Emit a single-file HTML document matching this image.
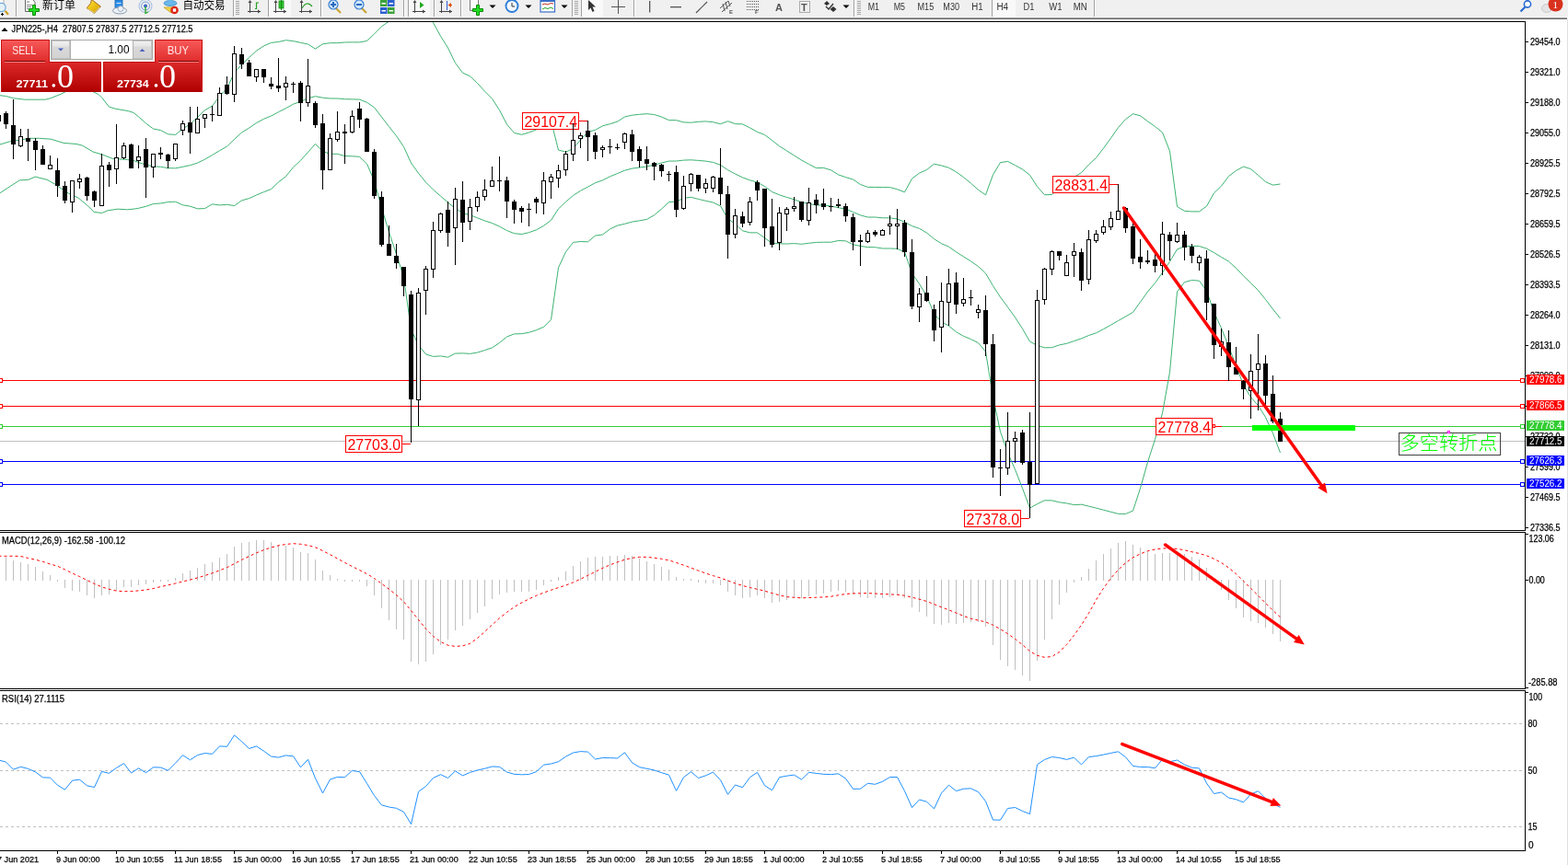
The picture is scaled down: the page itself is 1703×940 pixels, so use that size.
<!DOCTYPE html>
<html><head><meta charset="utf-8"><title>JPN225-,H4</title>
<style>
html,body{margin:0;padding:0;width:1703px;height:940px;overflow:hidden;background:#fff;}
svg{position:absolute;left:0;top:0;display:block}

</style></head><body>
<svg width="1703" height="940" viewBox="0 0 1703 940" font-family="'Liberation Sans', Arial, sans-serif">
<defs>
<clipPath id="cm"><rect x="0" y="24" width="1656" height="552"/></clipPath>
<clipPath id="cd"><rect x="0" y="579" width="1656" height="169"/></clipPath>
<clipPath id="cr"><rect x="0" y="751" width="1656" height="173"/></clipPath>
<clipPath id="ct"><rect x="0" y="0" width="1703" height="21"/></clipPath>
</defs>
<rect x="0" y="0" width="1703" height="940" fill="#fff"/>
<g clip-path="url(#ct)">
<rect x="0" y="0" width="1703" height="19" fill="#f0f0f0"/>
<rect x="0" y="18" width="1703" height="1" fill="#f6f6f6"/>
<rect x="0" y="19" width="1702" height="1" fill="#a0a0a0"/>
<rect x="0" y="20" width="1702" height="1" fill="#6a6a6a"/>
<rect x="-1" y="-1" width="5" height="8" fill="#fafafa" stroke="#999" stroke-width="0.8"/>
<circle cx="1.5" cy="8" r="4.6" fill="#e4f4fc" fill-opacity="0.85" stroke="#6aa6d8" stroke-width="1.2"/>
<line x1="5.5" y1="11.8" x2="9" y2="15.8" stroke="#c9a020" stroke-width="2.2"/>
<path d="M2.5 14 V17 M1 15.5 H4" stroke="#000" stroke-width="1"/>
<rect x="17" y="0" width="1" height="18" fill="#a0a0a0"/><rect x="18" y="0" width="1" height="18" fill="#ffffff"/>
<path d="M27.5 -1 V12.5 H38 V2.5 L35.5 -1 Z" fill="#fff" stroke="#666" stroke-width="1"/>
<rect x="29" y="1.5" width="3" height="1" fill="#777"/><rect x="29" y="5" width="6" height="1" fill="#888"/><rect x="29" y="7" width="5" height="1" fill="#888"/><rect x="29" y="9" width="3" height="1" fill="#888"/>
<path d="M31.5 9.5 H35.5 V5.5 H38.5 V9.5 H42.5 V12.5 H38.5 V16.5 H35.5 V12.5 H31.5 Z" fill="#22dd22" stroke="#0a8a0a" stroke-width="1"/>
<text x="46" y="9.5" font-size="12" fill="#000" font-family="'Liberation Sans', 'Noto Sans CJK SC', 'WenQuanYi Zen Hei', sans-serif" textLength="36" lengthAdjust="spacingAndGlyphs">新订单</text>
<defs><linearGradient id="gold" x1="0" y1="0" x2="1" y2="1"><stop offset="0" stop-color="#fff2a0"/><stop offset="0.4" stop-color="#f0c818"/><stop offset="1" stop-color="#d09a10"/></linearGradient></defs>
<path d="M99.5 -0.5 L109.3 7 L102.5 14.5 L94.3 8.8 L98.5 3.5 Z" fill="url(#gold)" stroke="#a86a10" stroke-width="1"/>
<path d="M95.5 9.8 L102.5 14 L108 8" fill="none" stroke="#e8d8a0" stroke-width="1"/>
<rect x="125" y="0" width="8" height="9" fill="#2d8ee6" stroke="#1a5fb0" stroke-width="0.8"/>
<rect x="126.5" y="3" width="5" height="1" fill="#cfe8ff"/>
<ellipse cx="130" cy="11.5" rx="7.5" ry="3.5" fill="#eef2f8" stroke="#8a9ab0" stroke-width="1"/>
<circle cx="131" cy="9.5" r="3" fill="#eef2f8" stroke="#8a9ab0" stroke-width="0.8"/>
<circle cx="158" cy="6.5" r="7" fill="none" stroke="#9ab8e0" stroke-width="1"/>
<circle cx="158" cy="6.5" r="4.5" fill="none" stroke="#6f9ad6" stroke-width="1"/>
<circle cx="158" cy="6.5" r="2" fill="#3a66c8"/>
<path d="M158 7 V14.5 L161 13" fill="none" stroke="#29a829" stroke-width="1.3"/>
<path d="M178 8 L186 14 L192 8 Z" fill="#f2d54a" stroke="#c0a020" stroke-width="0.8"/>
<ellipse cx="185" cy="3.5" rx="7" ry="3" fill="#6ab8ec" stroke="#3a88c0" stroke-width="0.8"/>
<rect x="183" y="0" width="4" height="3" fill="#6ab8ec"/>
<circle cx="189.5" cy="11" r="4.3" fill="#dd2211"/>
<rect x="187.8" y="9.3" width="3.4" height="3.4" fill="#fff"/>
<text x="198.5" y="9.5" font-size="12" fill="#000" font-family="'Liberation Sans', 'Noto Sans CJK SC', 'WenQuanYi Zen Hei', sans-serif" textLength="46" lengthAdjust="spacingAndGlyphs">自动交易</text>
<rect x="253" y="0" width="1" height="18" fill="#a0a0a0"/><rect x="254" y="0" width="1" height="18" fill="#ffffff"/>
<rect x="256" y="1" width="4" height="1" fill="#a8a8a8"/>
<rect x="256" y="3" width="4" height="1" fill="#a8a8a8"/>
<rect x="256" y="5" width="4" height="1" fill="#a8a8a8"/>
<rect x="256" y="7" width="4" height="1" fill="#a8a8a8"/>
<rect x="256" y="9" width="4" height="1" fill="#a8a8a8"/>
<rect x="256" y="11" width="4" height="1" fill="#a8a8a8"/>
<rect x="256" y="13" width="4" height="1" fill="#a8a8a8"/>
<rect x="256" y="15" width="4" height="1" fill="#a8a8a8"/>
<rect x="271" y="1" width="1" height="13" fill="#444"/><rect x="269" y="12" width="14" height="1" fill="#444"/>
<polygon points="271.5,0 269.5,3 273.5,3" fill="#444"/><polygon points="283,12.5 280,10.5 280,14.5" fill="#444"/>
<path d="M277 9.5 H278.5 V3 H281" fill="none" stroke="#22a022" stroke-width="1.2"/>
<rect x="291" y="0" width="1" height="18" fill="#a0a0a0"/><rect x="292" y="0" width="1" height="18" fill="#ffffff"/>
<rect x="293" y="0" width="23" height="18" fill="#f9f9f9"/>
<rect x="299" y="1" width="1" height="13" fill="#444"/><rect x="297" y="12" width="14" height="1" fill="#444"/>
<polygon points="299.5,0 297.5,3 301.5,3" fill="#444"/><polygon points="311,12.5 308,10.5 308,14.5" fill="#444"/>
<rect x="303" y="1" width="5" height="8" fill="#33cc33" stroke="#118811" stroke-width="0.8"/><rect x="305" y="0" width="1" height="11" fill="#118811"/>
<rect x="327" y="1" width="1" height="13" fill="#444"/><rect x="325" y="12" width="14" height="1" fill="#444"/>
<polygon points="327.5,0 325.5,3 329.5,3" fill="#444"/><polygon points="339,12.5 336,10.5 336,14.5" fill="#444"/>
<path d="M328 9 Q333 0 339 7" fill="none" stroke="#22a022" stroke-width="1.2"/>
<rect x="348" y="0" width="1" height="18" fill="#a0a0a0"/><rect x="349" y="0" width="1" height="18" fill="#ffffff"/>
<line x1="365" y1="9" x2="370" y2="14" stroke="#c9a437" stroke-width="2.2"/>
<circle cx="362" cy="5" r="5" fill="#cfe6fa" stroke="#3a7fd0" stroke-width="1.2"/>
<rect x="359" y="4" width="6" height="2" fill="#2a6ac0"/>
<rect x="361" y="2" width="2" height="6" fill="#2a6ac0"/>
<line x1="393" y1="9" x2="398" y2="14" stroke="#c9a437" stroke-width="2.2"/>
<circle cx="390" cy="5" r="5" fill="#cfe6fa" stroke="#3a7fd0" stroke-width="1.2"/>
<rect x="387" y="4" width="6" height="2" fill="#2a6ac0"/>
<rect x="413" y="0" width="7.5" height="7" fill="#3aa23a"/><rect x="414.5" y="3" width="4.5" height="1.5" fill="#fff"/>
<rect x="421" y="0" width="7.5" height="7" fill="#2a5fd0"/><rect x="422.5" y="3" width="4.5" height="1.5" fill="#fff"/>
<rect x="413" y="8" width="7.5" height="7" fill="#2a5fd0"/><rect x="414.5" y="11" width="4.5" height="1.5" fill="#fff"/>
<rect x="421" y="8" width="7.5" height="7" fill="#3aa23a"/><rect x="422.5" y="11" width="4.5" height="1.5" fill="#fff"/>
<rect x="438" y="0" width="1" height="18" fill="#a0a0a0"/><rect x="439" y="0" width="1" height="18" fill="#ffffff"/>
<rect x="443" y="0" width="1" height="18" fill="#a0a0a0"/><rect x="444" y="0" width="1" height="18" fill="#ffffff"/>
<rect x="445" y="0" width="22" height="18" fill="#f9f9f9"/>
<rect x="450" y="1" width="1" height="13" fill="#444"/><rect x="448" y="12" width="14" height="1" fill="#444"/>
<polygon points="450.5,0 448.5,3 452.5,3" fill="#444"/><polygon points="462,12.5 459,10.5 459,14.5" fill="#444"/>
<polygon points="456,2 456,9 460.5,5.5" fill="#22aa22"/>
<rect x="471" y="0" width="1" height="18" fill="#a0a0a0"/><rect x="472" y="0" width="1" height="18" fill="#ffffff"/>
<rect x="479" y="1" width="1" height="13" fill="#444"/><rect x="477" y="12" width="14" height="1" fill="#444"/>
<polygon points="479.5,0 477.5,3 481.5,3" fill="#444"/><polygon points="491,12.5 488,10.5 488,14.5" fill="#444"/>
<rect x="485" y="1" width="1" height="10" fill="#2a5fd0"/><polygon points="486.5,5.5 490,3 490,8" fill="#e05010"/><rect x="487" y="5" width="4" height="1" fill="#e05010"/>
<rect x="500" y="0" width="1" height="18" fill="#a0a0a0"/><rect x="501" y="0" width="1" height="18" fill="#ffffff"/>
<path d="M510.5 0 V11.5 H519.5 V0" fill="#fff" stroke="#777" stroke-width="1"/>
<path d="M513.5 9.5 H517.5 V5.5 H520.5 V9.5 H524.5 V12.5 H520.5 V16.5 H517.5 V12.5 H513.5 Z" fill="#22dd22" stroke="#0a8a0a" stroke-width="1"/>
<polygon points="531.5,5.5 538.5,5.5 535.0,9" fill="#000"/>
<circle cx="556" cy="6.5" r="7.5" fill="#2f7fd8"/><circle cx="556" cy="6.5" r="5.5" fill="#f4f8ff"/>
<path d="M556 3 V7 H559" fill="none" stroke="#333" stroke-width="1"/>
<polygon points="570.5,5.5 577.5,5.5 574.0,9" fill="#000"/>
<rect x="587" y="0" width="15.5" height="13" fill="#fff" stroke="#3a6fc8" stroke-width="1.2"/><rect x="587" y="0" width="15.5" height="2" fill="#3a6fc8"/>
<path d="M589 5 L592 4 L595 5 L598 3.5 L601 4" fill="none" stroke="#c03020" stroke-width="1"/>
<path d="M589 10 L592 8.5 L595 9.5 L598 8 L601 9.5" fill="none" stroke="#22a022" stroke-width="1"/>
<polygon points="609.5,5.5 616.5,5.5 613.0,9" fill="#000"/>
<rect x="621" y="0" width="1" height="18" fill="#a0a0a0"/><rect x="622" y="0" width="1" height="18" fill="#ffffff"/>
<rect x="624" y="1" width="4" height="1" fill="#a8a8a8"/>
<rect x="624" y="3" width="4" height="1" fill="#a8a8a8"/>
<rect x="624" y="5" width="4" height="1" fill="#a8a8a8"/>
<rect x="624" y="7" width="4" height="1" fill="#a8a8a8"/>
<rect x="624" y="9" width="4" height="1" fill="#a8a8a8"/>
<rect x="624" y="11" width="4" height="1" fill="#a8a8a8"/>
<rect x="624" y="13" width="4" height="1" fill="#a8a8a8"/>
<rect x="624" y="15" width="4" height="1" fill="#a8a8a8"/>
<rect x="631" y="0" width="1" height="18" fill="#a0a0a0"/><rect x="632" y="0" width="1" height="18" fill="#ffffff"/>
<rect x="633" y="0" width="22" height="18" fill="#f9f9f9"/>
<path d="M639 0 V11 L641.5 8.5 L643.5 13 L645.5 12 L643.5 7.5 L647 7.5 Z" fill="#333"/>
<rect x="664" y="7" width="15" height="1" fill="#555"/><rect x="671" y="0" width="1" height="15" fill="#555"/>
<rect x="688" y="0" width="1" height="18" fill="#a0a0a0"/><rect x="689" y="0" width="1" height="18" fill="#ffffff"/>
<rect x="705" y="1" width="1.3" height="12.5" fill="#555"/>
<rect x="728" y="7" width="12" height="1.3" fill="#555"/>
<line x1="756" y1="14" x2="768" y2="2" stroke="#555" stroke-width="1.2"/>
<path d="M782 9 L791 1 M784 13 L795 3 M785 4 L787 12 M788 2 L790 10 M791 1 L793 7" fill="none" stroke="#555" stroke-width="1"/>
<text x="792" y="15" font-size="6" font-weight="bold" fill="#555" font-family="'Liberation Sans', Arial, sans-serif">E</text>
<line x1="811" y1="1.5" x2="824" y2="1.5" stroke="#555" stroke-width="1" stroke-dasharray="1 1"/>
<line x1="811" y1="4.5" x2="824" y2="4.5" stroke="#555" stroke-width="1" stroke-dasharray="1 1"/>
<line x1="811" y1="7.5" x2="824" y2="7.5" stroke="#555" stroke-width="1" stroke-dasharray="1 1"/>
<line x1="811" y1="10.5" x2="824" y2="10.5" stroke="#555" stroke-width="1" stroke-dasharray="1 1"/>
<text x="820" y="15" font-size="6" font-weight="bold" fill="#555" font-family="'Liberation Sans', Arial, sans-serif">F</text>
<text x="842" y="11.7" font-size="11" font-weight="bold" fill="#555" font-family="'Liberation Sans', Arial, sans-serif">A</text>
<rect x="868.5" y="1.5" width="11" height="12" fill="none" stroke="#666" stroke-width="1" stroke-dasharray="1 1"/>
<text x="870" y="11.5" font-size="11" font-weight="bold" fill="#555" font-family="'Liberation Sans', Arial, sans-serif">T</text>
<polygon points="898,1 901,4 898,6 895,4" fill="#333"/><polygon points="905,7 908.5,10 905,13 901.5,10" fill="#333"/><path d="M897 7 L900 10 L905 4" fill="none" stroke="#333" stroke-width="1.3"/>
<polygon points="915.5,5.5 922.5,5.5 919.0,9" fill="#000"/>
<rect x="927" y="0" width="1" height="18" fill="#a0a0a0"/><rect x="928" y="0" width="1" height="18" fill="#ffffff"/>
<rect x="931" y="1" width="4" height="1" fill="#a8a8a8"/>
<rect x="931" y="3" width="4" height="1" fill="#a8a8a8"/>
<rect x="931" y="5" width="4" height="1" fill="#a8a8a8"/>
<rect x="931" y="7" width="4" height="1" fill="#a8a8a8"/>
<rect x="931" y="9" width="4" height="1" fill="#a8a8a8"/>
<rect x="931" y="11" width="4" height="1" fill="#a8a8a8"/>
<rect x="931" y="13" width="4" height="1" fill="#a8a8a8"/>
<rect x="931" y="15" width="4" height="1" fill="#a8a8a8"/>
<rect x="1077" y="0" width="26" height="18" fill="#f9f9f9"/>
<rect x="1077" y="0" width="1" height="18" fill="#a0a0a0"/>
<text x="942.7" y="11" font-size="10" fill="#333" font-family="'Liberation Sans', Arial, sans-serif" textLength="12.3" lengthAdjust="spacingAndGlyphs">M1</text>
<text x="970.7" y="11" font-size="10" fill="#333" font-family="'Liberation Sans', Arial, sans-serif" textLength="12.3" lengthAdjust="spacingAndGlyphs">M5</text>
<text x="996.5" y="11" font-size="10" fill="#333" font-family="'Liberation Sans', Arial, sans-serif" textLength="17.7" lengthAdjust="spacingAndGlyphs">M15</text>
<text x="1024.3" y="11" font-size="10" fill="#333" font-family="'Liberation Sans', Arial, sans-serif" textLength="17.7" lengthAdjust="spacingAndGlyphs">M30</text>
<text x="1055.2" y="11" font-size="10" fill="#333" font-family="'Liberation Sans', Arial, sans-serif" textLength="12.4" lengthAdjust="spacingAndGlyphs">H1</text>
<text x="1082.4" y="11" font-size="10" fill="#333" font-family="'Liberation Sans', Arial, sans-serif" textLength="12.7" lengthAdjust="spacingAndGlyphs">H4</text>
<text x="1111.5" y="11" font-size="10" fill="#333" font-family="'Liberation Sans', Arial, sans-serif" textLength="11.9" lengthAdjust="spacingAndGlyphs">D1</text>
<text x="1139.2" y="11" font-size="10" fill="#333" font-family="'Liberation Sans', Arial, sans-serif" textLength="14.3" lengthAdjust="spacingAndGlyphs">W1</text>
<text x="1165.7" y="11" font-size="10" fill="#333" font-family="'Liberation Sans', Arial, sans-serif" textLength="15" lengthAdjust="spacingAndGlyphs">MN</text>
<rect x="1188" y="0" width="1" height="18" fill="#a0a0a0"/><rect x="1189" y="0" width="1" height="18" fill="#ffffff"/>
<circle cx="1659" cy="4.5" r="3.6" fill="#fff" stroke="#2a6ad0" stroke-width="1.6"/><line x1="1656.5" y1="7.5" x2="1651.5" y2="12.5" stroke="#2a6ad0" stroke-width="2.2"/>
<ellipse cx="1680" cy="9" rx="5.5" ry="4.5" fill="#e4e4e4" stroke="#c0c0c0" stroke-width="0.8"/>
<circle cx="1689.5" cy="4.5" r="8" fill="#d8321e"/>
<text x="1686.5" y="8.5" font-size="11" fill="#fff" font-family="'Liberation Serif', serif">1</text>
</g>
<g clip-path="url(#cm)">
<rect x="0" y="413" width="1656" height="1" fill="#ff0000"/>
<rect x="-1.5" y="411.5" width="4" height="4" fill="#fff" stroke="#ff0000" stroke-width="1"/>
<rect x="1651.5" y="411.5" width="4" height="4" fill="#fff" stroke="#ff0000" stroke-width="1"/>
<rect x="0" y="441" width="1656" height="1" fill="#ff0000"/>
<rect x="-1.5" y="439.5" width="4" height="4" fill="#fff" stroke="#ff0000" stroke-width="1"/>
<rect x="1651.5" y="439.5" width="4" height="4" fill="#fff" stroke="#ff0000" stroke-width="1"/>
<rect x="0" y="463" width="1656" height="1" fill="#32cd32"/>
<rect x="-1.5" y="461.5" width="4" height="4" fill="#fff" stroke="#32cd32" stroke-width="1"/>
<rect x="1651.5" y="461.5" width="4" height="4" fill="#fff" stroke="#32cd32" stroke-width="1"/>
<rect x="0" y="479" width="1656" height="1" fill="#c0c0c0"/>
<rect x="0" y="501" width="1656" height="1" fill="#0000ff"/>
<rect x="-1.5" y="499.5" width="4" height="4" fill="#fff" stroke="#0000ff" stroke-width="1"/>
<rect x="1651.5" y="499.5" width="4" height="4" fill="#fff" stroke="#0000ff" stroke-width="1"/>
<rect x="0" y="526" width="1656" height="1" fill="#0000ff"/>
<rect x="-1.5" y="524.5" width="4" height="4" fill="#fff" stroke="#0000ff" stroke-width="1"/>
<rect x="1651.5" y="524.5" width="4" height="4" fill="#fff" stroke="#0000ff" stroke-width="1"/>
<polyline points="0.0,103.7 6.4,104.5 14.5,106.7 26.8,108.2 49.2,108.2 55.1,106.7 66.3,102.2 86.0,92.0 107.2,102.7 110.9,106.4 118.4,116.1 125.8,118.3 139.2,120.6 145.0,122.4 150.5,126.9 158.5,134.0 166.5,140.0 174.5,141.6 182.5,145.8 190.5,146.4 198.5,139.9 206.5,135.0 214.5,127.4 222.5,119.7 230.5,115.2 238.5,104.6 246.5,95.9 254.5,79.2 262.5,70.1 270.5,62.6 278.5,55.2 286.5,49.9 294.5,46.4 302.5,45.5 310.5,43.7 318.5,44.6 326.5,46.4 334.5,48.0 342.5,53.1 350.5,47.8 358.5,46.7 366.5,46.7 374.5,46.0 382.5,45.9 390.5,45.9 398.5,44.5 406.5,36.9 414.5,28.8 422.5,23.1 430.5,19.4 438.5,17.6 446.5,-4.1 454.5,1.5 462.5,11.2 470.5,24.7 478.5,39.2 486.5,52.0 494.5,68.5 502.5,79.2 510.5,82.8 518.5,90.5 526.5,99.2 534.5,107.2 542.5,119.7 550.5,135.1 558.5,144.5 566.5,146.3 574.5,144.0 582.5,140.9 590.5,135.3 598.5,131.3 606.5,163.0 614.5,165.2 622.5,161.5 630.5,152.0 638.5,143.4 646.5,141.3 654.5,136.8 662.5,134.7 670.5,132.2 678.5,127.0 686.5,125.2 694.5,124.3 702.5,123.7 710.5,124.5 718.5,127.0 726.5,130.6 734.5,130.7 742.5,132.9 750.5,133.2 758.5,132.3 766.5,131.9 774.5,132.7 782.5,134.7 790.5,131.7 798.5,134.6 806.5,134.9 814.5,138.9 822.5,143.4 830.5,146.5 838.5,152.5 846.5,158.8 854.5,163.9 862.5,169.0 870.5,174.0 878.5,178.4 886.5,182.6 894.5,182.4 902.5,184.8 910.5,189.9 918.5,192.6 926.5,195.0 934.5,200.5 942.5,203.4 950.5,203.4 958.5,203.6 966.5,203.6 974.5,205.7 982.5,208.8 990.5,194.1 998.5,188.1 1006.5,184.5 1014.5,178.2 1022.5,179.9 1030.5,182.3 1038.5,186.8 1046.5,192.6 1054.5,199.2 1062.5,206.3 1070.5,211.8 1078.5,189.8 1086.5,176.6 1094.5,175.4 1102.5,179.6 1110.5,184.0 1118.5,190.2 1126.5,202.8 1134.5,211.7 1142.5,211.5 1150.5,204.1 1158.5,199.6 1166.5,192.6 1174.5,187.6 1182.5,178.9 1190.5,171.5 1198.5,161.1 1206.5,150.2 1214.5,138.6 1222.5,129.6 1230.5,123.7 1238.5,125.8 1246.5,131.8 1254.5,137.5 1262.5,143.9 1270.5,164.2 1278.5,224.5 1286.5,229.3 1294.5,229.9 1302.5,229.9 1310.5,224.1 1318.5,209.8 1326.5,202.2 1334.5,191.5 1342.5,185.4 1350.5,181.1 1358.5,183.6 1366.5,190.4 1374.5,197.6 1382.5,201.1 1390.5,200.0" fill="none" stroke="#3cb371" stroke-width="1"/>
<polyline points="0.0,157.0 10.6,153.8 21.3,152.2 31.9,150.3 42.6,150.3 55.3,151.2 69.1,155.4 83.0,156.5 89.4,158.1 101.0,165.0 111.7,168.2 122.3,172.4 138.3,173.5 146.0,174.8 150.5,176.6 158.5,179.1 166.5,180.8 174.5,181.3 182.5,182.7 190.5,182.8 198.5,181.3 206.5,179.6 214.5,177.1 222.5,173.2 230.5,168.5 238.5,163.7 246.5,159.1 254.5,151.4 262.5,144.0 270.5,139.1 278.5,133.6 286.5,129.3 294.5,126.0 302.5,121.7 310.5,117.7 318.5,113.2 326.5,110.4 334.5,106.7 342.5,104.7 350.5,106.2 358.5,107.0 366.5,107.0 374.5,107.7 382.5,107.9 390.5,108.1 398.5,111.3 406.5,116.8 414.5,127.2 422.5,137.6 430.5,147.7 438.5,159.5 446.5,177.1 454.5,188.2 462.5,198.1 470.5,206.1 478.5,213.1 486.5,220.1 494.5,226.3 502.5,231.6 510.5,233.6 518.5,236.8 526.5,239.9 534.5,242.5 542.5,246.1 550.5,250.5 558.5,253.7 566.5,254.5 574.5,252.7 582.5,249.8 590.5,245.3 598.5,239.4 606.5,226.9 614.5,219.4 622.5,212.4 630.5,207.3 638.5,203.1 646.5,198.7 654.5,195.9 662.5,191.8 670.5,188.6 678.5,185.2 686.5,183.1 694.5,182.0 702.5,181.0 710.5,179.1 718.5,177.0 726.5,175.1 734.5,175.0 742.5,174.1 750.5,173.8 758.5,174.4 766.5,175.1 774.5,176.4 782.5,179.3 790.5,184.7 798.5,189.0 806.5,192.9 814.5,195.8 822.5,198.1 830.5,202.5 838.5,208.5 846.5,211.8 854.5,214.4 862.5,216.8 870.5,219.7 878.5,221.4 886.5,223.0 894.5,222.8 902.5,224.0 910.5,225.7 918.5,227.2 926.5,230.4 934.5,233.9 942.5,236.0 950.5,236.0 958.5,236.8 966.5,236.8 974.5,238.0 982.5,241.3 990.5,245.6 998.5,248.3 1006.5,253.0 1014.5,259.6 1022.5,264.7 1030.5,268.2 1038.5,273.8 1046.5,278.9 1054.5,283.9 1062.5,289.5 1070.5,297.0 1078.5,310.6 1086.5,322.9 1094.5,333.7 1102.5,344.9 1110.5,357.3 1118.5,371.1 1126.5,375.3 1134.5,377.8 1142.5,377.7 1150.5,374.9 1158.5,373.3 1166.5,370.6 1174.5,367.9 1182.5,364.5 1190.5,361.8 1198.5,357.6 1206.5,353.2 1214.5,348.5 1222.5,344.0 1230.5,339.4 1238.5,328.2 1246.5,317.0 1254.5,307.5 1262.5,296.4 1270.5,284.3 1278.5,270.8 1286.5,267.9 1294.5,267.2 1302.5,267.5 1310.5,270.1 1318.5,274.5 1326.5,279.4 1334.5,284.1 1342.5,291.4 1350.5,299.8 1358.5,307.6 1366.5,315.5 1374.5,325.5 1382.5,336.0 1390.5,346.0" fill="none" stroke="#3cb371" stroke-width="1"/>
<polyline points="0.0,209.7 10.6,202.8 21.3,195.9 30.9,195.3 38.3,192.1 51.1,195.3 59.6,200.1 74.5,210.2 85.1,215.0 95.7,224.0 102.1,230.4 110.6,231.5 117.0,228.8 127.7,227.2 138.3,227.8 146.0,227.0 150.5,226.3 158.5,224.3 166.5,221.5 174.5,221.0 182.5,219.5 190.5,219.2 198.5,222.8 206.5,224.2 214.5,226.8 222.5,226.6 230.5,221.8 238.5,222.9 246.5,222.3 254.5,223.6 262.5,217.9 270.5,215.6 278.5,212.0 286.5,208.6 294.5,205.6 302.5,197.9 310.5,191.7 318.5,181.8 326.5,174.4 334.5,165.4 342.5,156.4 350.5,164.5 358.5,167.3 366.5,167.3 374.5,169.5 382.5,169.8 390.5,170.3 398.5,178.0 406.5,196.7 414.5,225.7 422.5,252.2 430.5,276.1 438.5,301.5 446.5,358.2 454.5,375.0 462.5,385.0 470.5,387.4 478.5,386.9 486.5,388.2 494.5,384.1 502.5,383.9 510.5,384.4 518.5,383.1 526.5,380.6 534.5,377.9 542.5,372.5 550.5,366.0 558.5,362.9 566.5,362.7 574.5,361.3 582.5,358.7 590.5,355.3 598.5,347.4 606.5,290.9 614.5,273.7 622.5,263.4 630.5,262.5 638.5,262.8 646.5,256.1 654.5,255.0 662.5,248.9 670.5,245.1 678.5,243.3 686.5,241.1 694.5,239.8 702.5,238.4 710.5,233.8 718.5,227.1 726.5,219.5 734.5,219.3 742.5,215.3 750.5,214.3 758.5,216.4 766.5,218.3 774.5,220.0 782.5,223.9 790.5,237.6 798.5,243.4 806.5,250.8 814.5,252.8 822.5,252.9 830.5,258.5 838.5,264.4 846.5,264.8 854.5,265.0 862.5,264.6 870.5,265.3 878.5,264.3 886.5,263.4 894.5,263.2 902.5,263.2 910.5,261.5 918.5,261.8 926.5,265.8 934.5,267.4 942.5,268.6 950.5,268.7 958.5,270.0 966.5,270.0 974.5,270.3 982.5,273.8 990.5,297.1 998.5,308.4 1006.5,321.6 1014.5,341.1 1022.5,349.6 1030.5,354.2 1038.5,360.7 1046.5,365.3 1054.5,368.6 1062.5,372.6 1070.5,382.1 1078.5,431.5 1086.5,469.2 1094.5,492.0 1102.5,510.2 1110.5,530.6 1118.5,552.0 1126.5,547.7 1134.5,543.8 1142.5,543.9 1150.5,545.8 1158.5,546.9 1166.5,548.6 1174.5,548.2 1182.5,550.1 1190.5,552.1 1198.5,554.2 1206.5,556.3 1214.5,558.4 1222.5,558.5 1230.5,555.1 1238.5,530.6 1246.5,502.2 1254.5,477.4 1262.5,448.9 1270.5,404.4 1278.5,317.0 1286.5,306.6 1294.5,304.5 1302.5,305.1 1310.5,316.0 1318.5,339.2 1326.5,356.6 1334.5,376.7 1342.5,397.4 1350.5,418.5 1358.5,431.7 1366.5,440.6 1374.5,453.4 1382.5,470.9 1390.5,492.0" fill="none" stroke="#3cb371" stroke-width="1"/>
<rect x="567.5" y="122.5" width="61" height="18" fill="#fff" stroke="#ff0000" stroke-width="1"/>
<text x="569.5" y="138" font-size="16" fill="#ff0000" textLength="57.5" lengthAdjust="spacingAndGlyphs">29107.4</text>
<rect x="629" y="131" width="9" height="1" fill="#ff0000"/>
<rect x="1143.5" y="191.5" width="61" height="18" fill="#fff" stroke="#ff0000" stroke-width="1"/>
<text x="1145.5" y="207" font-size="16" fill="#ff0000" textLength="57.5" lengthAdjust="spacingAndGlyphs">28831.4</text>
<rect x="1205" y="200" width="9" height="1" fill="#ff0000"/>
<rect x="375.5" y="473.5" width="61" height="18" fill="#fff" stroke="#ff0000" stroke-width="1"/>
<text x="377.5" y="489" font-size="16" fill="#ff0000" textLength="57.5" lengthAdjust="spacingAndGlyphs">27703.0</text>
<rect x="437" y="482" width="9" height="1" fill="#ff0000"/>
<rect x="1047.5" y="554.5" width="61" height="18" fill="#fff" stroke="#ff0000" stroke-width="1"/>
<text x="1049.5" y="570" font-size="16" fill="#ff0000" textLength="57.5" lengthAdjust="spacingAndGlyphs">27378.0</text>
<rect x="1109" y="563" width="9" height="1" fill="#ff0000"/>
<rect x="1255.5" y="454.5" width="61" height="18" fill="#fff" stroke="#ff0000" stroke-width="1"/>
<text x="1257.5" y="470" font-size="16" fill="#ff0000" textLength="57.5" lengthAdjust="spacingAndGlyphs">27778.4</text>
<rect x="1317.5" y="461.5" width="2" height="3" fill="#fff" stroke="#ff0000" stroke-width="1"/>
<rect x="1320" y="463" width="7" height="1" fill="#ff0000"/>
<rect x="-2" y="124" width="1" height="8" fill="#000"/>
<rect x="-4" y="125" width="5" height="7" fill="#000"/>
<rect x="6" y="121" width="1" height="19" fill="#000"/>
<rect x="4" y="123" width="5" height="12" fill="#000"/>
<rect x="14" y="108" width="1" height="65" fill="#000"/>
<rect x="12" y="136" width="5" height="21" fill="#000"/>
<rect x="22" y="140" width="1" height="20" fill="#000"/>
<rect x="20.5" y="148.5" width="4" height="10" fill="#fff" stroke="#000" stroke-width="1"/>
<rect x="30" y="140" width="1" height="35" fill="#000"/>
<rect x="28" y="150" width="5" height="4" fill="#000"/>
<rect x="38" y="150" width="1" height="35" fill="#000"/>
<rect x="36" y="153" width="5" height="10" fill="#000"/>
<rect x="46" y="158" width="1" height="21" fill="#000"/>
<rect x="44" y="162" width="5" height="17" fill="#000"/>
<rect x="54" y="169" width="1" height="15" fill="#000"/>
<rect x="52.5" y="179.5" width="4" height="4" fill="#fff" stroke="#000" stroke-width="1"/>
<rect x="62" y="172" width="1" height="42" fill="#000"/>
<rect x="60" y="185" width="5" height="17" fill="#000"/>
<rect x="70" y="197" width="1" height="24" fill="#000"/>
<rect x="68" y="202" width="5" height="16" fill="#000"/>
<rect x="78" y="196" width="1" height="35" fill="#000"/>
<rect x="76.5" y="196.5" width="4" height="23" fill="#fff" stroke="#000" stroke-width="1"/>
<rect x="86" y="189" width="1" height="16" fill="#000"/>
<rect x="84.5" y="194.5" width="4" height="3" fill="#fff" stroke="#000" stroke-width="1"/>
<rect x="94" y="192" width="1" height="26" fill="#000"/>
<rect x="92" y="193" width="5" height="20" fill="#000"/>
<rect x="102" y="207" width="1" height="18" fill="#000"/>
<rect x="100" y="208" width="5" height="10" fill="#000"/>
<rect x="110" y="167" width="1" height="57" fill="#000"/>
<rect x="108.5" y="180.5" width="4" height="43" fill="#fff" stroke="#000" stroke-width="1"/>
<rect x="118" y="176" width="1" height="27" fill="#000"/>
<rect x="116" y="179" width="5" height="6" fill="#000"/>
<rect x="126" y="135" width="1" height="65" fill="#000"/>
<rect x="124.5" y="171.5" width="4" height="12" fill="#fff" stroke="#000" stroke-width="1"/>
<rect x="134" y="155" width="1" height="18" fill="#000"/>
<rect x="132.5" y="158.5" width="4" height="13" fill="#fff" stroke="#000" stroke-width="1"/>
<rect x="142" y="156" width="1" height="27" fill="#000"/>
<rect x="140" y="157" width="5" height="26" fill="#000"/>
<rect x="150" y="158" width="1" height="25" fill="#000"/>
<rect x="148.5" y="170.5" width="4" height="4" fill="#fff" stroke="#000" stroke-width="1"/>
<rect x="158" y="150" width="1" height="65" fill="#000"/>
<rect x="156" y="162" width="5" height="20" fill="#000"/>
<rect x="166" y="167" width="1" height="26" fill="#000"/>
<rect x="164.5" y="167.5" width="4" height="14" fill="#fff" stroke="#000" stroke-width="1"/>
<rect x="174" y="160" width="1" height="13" fill="#000"/>
<rect x="172" y="166" width="5" height="2" fill="#000"/>
<rect x="182" y="167" width="1" height="16" fill="#000"/>
<rect x="180" y="168" width="5" height="7" fill="#000"/>
<rect x="190" y="156" width="1" height="19" fill="#000"/>
<rect x="188.5" y="156.5" width="4" height="16" fill="#fff" stroke="#000" stroke-width="1"/>
<rect x="198" y="131" width="1" height="16" fill="#000"/>
<rect x="196.5" y="134.5" width="4" height="7" fill="#fff" stroke="#000" stroke-width="1"/>
<rect x="206" y="116" width="1" height="51" fill="#000"/>
<rect x="204" y="133" width="5" height="11" fill="#000"/>
<rect x="214" y="116" width="1" height="29" fill="#000"/>
<rect x="212.5" y="129.5" width="4" height="15" fill="#fff" stroke="#000" stroke-width="1"/>
<rect x="222" y="124" width="1" height="15" fill="#000"/>
<rect x="220.5" y="124.5" width="4" height="4" fill="#fff" stroke="#000" stroke-width="1"/>
<rect x="230" y="115" width="1" height="17" fill="#000"/>
<rect x="228" y="124" width="5" height="1" fill="#000"/>
<rect x="238" y="95" width="1" height="31" fill="#000"/>
<rect x="236.5" y="101.5" width="4" height="24" fill="#fff" stroke="#000" stroke-width="1"/>
<rect x="246" y="83" width="1" height="20" fill="#000"/>
<rect x="244" y="92" width="5" height="10" fill="#000"/>
<rect x="254" y="50" width="1" height="61" fill="#000"/>
<rect x="252.5" y="58.5" width="4" height="44" fill="#fff" stroke="#000" stroke-width="1"/>
<rect x="262" y="52" width="1" height="23" fill="#000"/>
<rect x="260" y="59" width="5" height="11" fill="#000"/>
<rect x="270" y="65" width="1" height="18" fill="#000"/>
<rect x="268" y="68" width="5" height="15" fill="#000"/>
<rect x="278" y="75" width="1" height="14" fill="#000"/>
<rect x="276.5" y="75.5" width="4" height="8" fill="#fff" stroke="#000" stroke-width="1"/>
<rect x="286" y="75" width="1" height="15" fill="#000"/>
<rect x="284" y="75" width="5" height="9" fill="#000"/>
<rect x="294" y="84" width="1" height="13" fill="#000"/>
<rect x="292" y="91" width="5" height="3" fill="#000"/>
<rect x="302" y="63" width="1" height="37" fill="#000"/>
<rect x="300" y="93" width="5" height="3" fill="#000"/>
<rect x="310" y="83" width="1" height="26" fill="#000"/>
<rect x="308.5" y="90.5" width="4" height="4" fill="#fff" stroke="#000" stroke-width="1"/>
<rect x="318" y="89" width="1" height="12" fill="#000"/>
<rect x="316" y="91" width="5" height="1" fill="#000"/>
<rect x="326" y="88" width="1" height="44" fill="#000"/>
<rect x="324" y="90" width="5" height="22" fill="#000"/>
<rect x="334" y="64" width="1" height="52" fill="#000"/>
<rect x="332.5" y="93.5" width="4" height="18" fill="#fff" stroke="#000" stroke-width="1"/>
<rect x="342" y="110" width="1" height="29" fill="#000"/>
<rect x="340" y="112" width="5" height="24" fill="#000"/>
<rect x="350" y="124" width="1" height="82" fill="#000"/>
<rect x="348" y="134" width="5" height="51" fill="#000"/>
<rect x="358" y="145" width="1" height="40" fill="#000"/>
<rect x="356.5" y="150.5" width="4" height="34" fill="#fff" stroke="#000" stroke-width="1"/>
<rect x="366" y="121" width="1" height="33" fill="#000"/>
<rect x="364.5" y="143.5" width="4" height="8" fill="#fff" stroke="#000" stroke-width="1"/>
<rect x="374" y="135" width="1" height="43" fill="#000"/>
<rect x="372" y="143" width="5" height="2" fill="#000"/>
<rect x="382" y="120" width="1" height="25" fill="#000"/>
<rect x="380.5" y="126.5" width="4" height="17" fill="#fff" stroke="#000" stroke-width="1"/>
<rect x="390" y="111" width="1" height="28" fill="#000"/>
<rect x="388" y="118" width="5" height="12" fill="#000"/>
<rect x="398" y="128" width="1" height="37" fill="#000"/>
<rect x="396" y="129" width="5" height="36" fill="#000"/>
<rect x="406" y="162" width="1" height="54" fill="#000"/>
<rect x="404" y="165" width="5" height="48" fill="#000"/>
<rect x="414" y="208" width="1" height="60" fill="#000"/>
<rect x="412" y="214" width="5" height="52" fill="#000"/>
<rect x="422" y="245" width="1" height="33" fill="#000"/>
<rect x="420" y="265" width="5" height="13" fill="#000"/>
<rect x="430" y="265" width="1" height="27" fill="#000"/>
<rect x="428" y="278" width="5" height="8" fill="#000"/>
<rect x="438" y="290" width="1" height="32" fill="#000"/>
<rect x="436" y="290" width="5" height="21" fill="#000"/>
<rect x="446" y="316" width="1" height="165" fill="#000"/>
<rect x="444" y="320" width="5" height="114" fill="#000"/>
<rect x="454" y="313" width="1" height="150" fill="#000"/>
<rect x="452.5" y="318.5" width="4" height="116" fill="#fff" stroke="#000" stroke-width="1"/>
<rect x="462" y="289" width="1" height="53" fill="#000"/>
<rect x="460.5" y="292.5" width="4" height="23" fill="#fff" stroke="#000" stroke-width="1"/>
<rect x="470" y="241" width="1" height="61" fill="#000"/>
<rect x="468.5" y="250.5" width="4" height="42" fill="#fff" stroke="#000" stroke-width="1"/>
<rect x="478" y="231" width="1" height="22" fill="#000"/>
<rect x="476.5" y="232.5" width="4" height="18" fill="#fff" stroke="#000" stroke-width="1"/>
<rect x="486" y="219" width="1" height="49" fill="#000"/>
<rect x="484" y="228" width="5" height="25" fill="#000"/>
<rect x="494" y="204" width="1" height="84" fill="#000"/>
<rect x="492.5" y="216.5" width="4" height="31" fill="#fff" stroke="#000" stroke-width="1"/>
<rect x="502" y="197" width="1" height="66" fill="#000"/>
<rect x="500" y="217" width="5" height="25" fill="#000"/>
<rect x="510" y="216" width="1" height="34" fill="#000"/>
<rect x="508.5" y="225.5" width="4" height="15" fill="#fff" stroke="#000" stroke-width="1"/>
<rect x="518" y="208" width="1" height="22" fill="#000"/>
<rect x="516.5" y="214.5" width="4" height="10" fill="#fff" stroke="#000" stroke-width="1"/>
<rect x="526" y="195" width="1" height="23" fill="#000"/>
<rect x="524.5" y="206.5" width="4" height="7" fill="#fff" stroke="#000" stroke-width="1"/>
<rect x="534" y="181" width="1" height="22" fill="#000"/>
<rect x="532.5" y="196.5" width="4" height="6" fill="#fff" stroke="#000" stroke-width="1"/>
<rect x="542" y="170" width="1" height="38" fill="#000"/>
<rect x="540" y="196" width="5" height="1" fill="#000"/>
<rect x="550" y="192" width="1" height="45" fill="#000"/>
<rect x="548" y="196" width="5" height="23" fill="#000"/>
<rect x="558" y="217" width="1" height="26" fill="#000"/>
<rect x="556" y="219" width="5" height="9" fill="#000"/>
<rect x="566" y="224" width="1" height="18" fill="#000"/>
<rect x="564" y="226" width="5" height="4" fill="#000"/>
<rect x="574" y="221" width="1" height="25" fill="#000"/>
<rect x="572" y="227" width="5" height="1" fill="#000"/>
<rect x="582" y="214" width="1" height="18" fill="#000"/>
<rect x="580" y="216" width="5" height="4" fill="#000"/>
<rect x="590" y="187" width="1" height="46" fill="#000"/>
<rect x="588.5" y="196.5" width="4" height="24" fill="#fff" stroke="#000" stroke-width="1"/>
<rect x="598" y="189" width="1" height="27" fill="#000"/>
<rect x="596.5" y="192.5" width="4" height="5" fill="#fff" stroke="#000" stroke-width="1"/>
<rect x="606" y="179" width="1" height="25" fill="#000"/>
<rect x="604.5" y="185.5" width="4" height="8" fill="#fff" stroke="#000" stroke-width="1"/>
<rect x="614" y="164" width="1" height="27" fill="#000"/>
<rect x="612.5" y="167.5" width="4" height="17" fill="#fff" stroke="#000" stroke-width="1"/>
<rect x="622" y="134" width="1" height="41" fill="#000"/>
<rect x="620.5" y="152.5" width="4" height="15" fill="#fff" stroke="#000" stroke-width="1"/>
<rect x="630" y="144" width="1" height="17" fill="#000"/>
<rect x="628.5" y="147.5" width="4" height="3" fill="#fff" stroke="#000" stroke-width="1"/>
<rect x="638" y="131" width="1" height="44" fill="#000"/>
<rect x="636" y="142" width="5" height="7" fill="#000"/>
<rect x="646" y="144" width="1" height="29" fill="#000"/>
<rect x="644" y="147" width="5" height="18" fill="#000"/>
<rect x="654" y="158" width="1" height="13" fill="#000"/>
<rect x="652.5" y="160.5" width="4" height="2" fill="#fff" stroke="#000" stroke-width="1"/>
<rect x="662" y="151" width="1" height="16" fill="#000"/>
<rect x="660" y="159" width="5" height="1" fill="#000"/>
<rect x="670" y="156" width="1" height="7" fill="#000"/>
<rect x="668" y="160" width="5" height="1" fill="#000"/>
<rect x="678" y="144" width="1" height="18" fill="#000"/>
<rect x="676.5" y="145.5" width="4" height="9" fill="#fff" stroke="#000" stroke-width="1"/>
<rect x="686" y="141" width="1" height="34" fill="#000"/>
<rect x="684" y="146" width="5" height="19" fill="#000"/>
<rect x="694" y="159" width="1" height="23" fill="#000"/>
<rect x="692" y="162" width="5" height="13" fill="#000"/>
<rect x="702" y="159" width="1" height="26" fill="#000"/>
<rect x="700" y="173" width="5" height="5" fill="#000"/>
<rect x="710" y="176" width="1" height="20" fill="#000"/>
<rect x="708" y="177" width="5" height="4" fill="#000"/>
<rect x="718" y="178" width="1" height="14" fill="#000"/>
<rect x="716" y="179" width="5" height="7" fill="#000"/>
<rect x="726" y="186" width="1" height="11" fill="#000"/>
<rect x="724" y="189" width="5" height="1" fill="#000"/>
<rect x="734" y="180" width="1" height="56" fill="#000"/>
<rect x="732" y="187" width="5" height="41" fill="#000"/>
<rect x="742" y="191" width="1" height="37" fill="#000"/>
<rect x="740.5" y="202.5" width="4" height="24" fill="#fff" stroke="#000" stroke-width="1"/>
<rect x="750" y="188" width="1" height="20" fill="#000"/>
<rect x="748.5" y="189.5" width="4" height="10" fill="#fff" stroke="#000" stroke-width="1"/>
<rect x="758" y="190" width="1" height="18" fill="#000"/>
<rect x="756" y="190" width="5" height="15" fill="#000"/>
<rect x="766" y="194" width="1" height="16" fill="#000"/>
<rect x="764.5" y="199.5" width="4" height="5" fill="#fff" stroke="#000" stroke-width="1"/>
<rect x="774" y="191" width="1" height="18" fill="#000"/>
<rect x="772.5" y="192.5" width="4" height="12" fill="#fff" stroke="#000" stroke-width="1"/>
<rect x="782" y="161" width="1" height="62" fill="#000"/>
<rect x="780" y="193" width="5" height="18" fill="#000"/>
<rect x="790" y="202" width="1" height="79" fill="#000"/>
<rect x="788" y="211" width="5" height="44" fill="#000"/>
<rect x="798" y="227" width="1" height="32" fill="#000"/>
<rect x="796.5" y="234.5" width="4" height="20" fill="#fff" stroke="#000" stroke-width="1"/>
<rect x="806" y="230" width="1" height="17" fill="#000"/>
<rect x="804" y="235" width="5" height="8" fill="#000"/>
<rect x="814" y="214" width="1" height="31" fill="#000"/>
<rect x="812.5" y="219.5" width="4" height="22" fill="#fff" stroke="#000" stroke-width="1"/>
<rect x="822" y="196" width="1" height="22" fill="#000"/>
<rect x="820" y="198" width="5" height="9" fill="#000"/>
<rect x="830" y="205" width="1" height="63" fill="#000"/>
<rect x="828" y="205" width="5" height="43" fill="#000"/>
<rect x="838" y="216" width="1" height="53" fill="#000"/>
<rect x="836" y="246" width="5" height="20" fill="#000"/>
<rect x="846" y="225" width="1" height="47" fill="#000"/>
<rect x="844.5" y="231.5" width="4" height="32" fill="#fff" stroke="#000" stroke-width="1"/>
<rect x="854" y="225" width="1" height="26" fill="#000"/>
<rect x="852.5" y="227.5" width="4" height="5" fill="#fff" stroke="#000" stroke-width="1"/>
<rect x="862" y="214" width="1" height="16" fill="#000"/>
<rect x="860.5" y="224.5" width="4" height="2" fill="#fff" stroke="#000" stroke-width="1"/>
<rect x="870" y="219" width="1" height="22" fill="#000"/>
<rect x="868" y="219" width="5" height="20" fill="#000"/>
<rect x="878" y="204" width="1" height="41" fill="#000"/>
<rect x="876.5" y="220.5" width="4" height="19" fill="#fff" stroke="#000" stroke-width="1"/>
<rect x="886" y="211" width="1" height="21" fill="#000"/>
<rect x="884" y="217" width="5" height="6" fill="#000"/>
<rect x="894" y="205" width="1" height="23" fill="#000"/>
<rect x="892" y="221" width="5" height="4" fill="#000"/>
<rect x="902" y="215" width="1" height="15" fill="#000"/>
<rect x="900" y="224" width="5" height="1" fill="#000"/>
<rect x="910" y="216" width="1" height="10" fill="#000"/>
<rect x="908" y="222" width="5" height="2" fill="#000"/>
<rect x="918" y="221" width="1" height="20" fill="#000"/>
<rect x="916" y="224" width="5" height="11" fill="#000"/>
<rect x="926" y="232" width="1" height="40" fill="#000"/>
<rect x="924" y="236" width="5" height="27" fill="#000"/>
<rect x="934" y="255" width="1" height="34" fill="#000"/>
<rect x="932" y="261" width="5" height="2" fill="#000"/>
<rect x="942" y="250" width="1" height="14" fill="#000"/>
<rect x="940.5" y="253.5" width="4" height="9" fill="#fff" stroke="#000" stroke-width="1"/>
<rect x="950" y="250" width="1" height="7" fill="#000"/>
<rect x="948" y="252" width="5" height="3" fill="#000"/>
<rect x="958" y="249" width="1" height="7" fill="#000"/>
<rect x="956.5" y="250.5" width="4" height="5" fill="#fff" stroke="#000" stroke-width="1"/>
<rect x="966" y="234" width="1" height="21" fill="#000"/>
<rect x="964.5" y="243.5" width="4" height="2" fill="#fff" stroke="#000" stroke-width="1"/>
<rect x="974" y="227" width="1" height="44" fill="#000"/>
<rect x="972.5" y="243.5" width="4" height="2" fill="#fff" stroke="#000" stroke-width="1"/>
<rect x="982" y="239" width="1" height="40" fill="#000"/>
<rect x="980" y="242" width="5" height="32" fill="#000"/>
<rect x="990" y="260" width="1" height="76" fill="#000"/>
<rect x="988" y="274" width="5" height="59" fill="#000"/>
<rect x="998" y="313" width="1" height="37" fill="#000"/>
<rect x="996.5" y="319.5" width="4" height="14" fill="#fff" stroke="#000" stroke-width="1"/>
<rect x="1006" y="300" width="1" height="28" fill="#000"/>
<rect x="1004" y="318" width="5" height="9" fill="#000"/>
<rect x="1014" y="331" width="1" height="40" fill="#000"/>
<rect x="1012" y="336" width="5" height="23" fill="#000"/>
<rect x="1022" y="307" width="1" height="76" fill="#000"/>
<rect x="1020.5" y="327.5" width="4" height="28" fill="#fff" stroke="#000" stroke-width="1"/>
<rect x="1030" y="292" width="1" height="62" fill="#000"/>
<rect x="1028.5" y="308.5" width="4" height="20" fill="#fff" stroke="#000" stroke-width="1"/>
<rect x="1038" y="296" width="1" height="45" fill="#000"/>
<rect x="1036" y="307" width="5" height="24" fill="#000"/>
<rect x="1046" y="302" width="1" height="31" fill="#000"/>
<rect x="1044.5" y="325.5" width="4" height="4" fill="#fff" stroke="#000" stroke-width="1"/>
<rect x="1054" y="315" width="1" height="17" fill="#000"/>
<rect x="1052" y="323" width="5" height="1" fill="#000"/>
<rect x="1062" y="331" width="1" height="15" fill="#000"/>
<rect x="1060.5" y="336.5" width="4" height="3" fill="#fff" stroke="#000" stroke-width="1"/>
<rect x="1070" y="321" width="1" height="66" fill="#000"/>
<rect x="1068" y="337" width="5" height="37" fill="#000"/>
<rect x="1078" y="363" width="1" height="156" fill="#000"/>
<rect x="1076" y="374" width="5" height="134" fill="#000"/>
<rect x="1086" y="488" width="1" height="51" fill="#000"/>
<rect x="1084" y="508" width="5" height="1" fill="#000"/>
<rect x="1094" y="448" width="1" height="68" fill="#000"/>
<rect x="1092.5" y="479.5" width="4" height="29" fill="#fff" stroke="#000" stroke-width="1"/>
<rect x="1102" y="469" width="1" height="34" fill="#000"/>
<rect x="1100.5" y="476.5" width="4" height="3" fill="#fff" stroke="#000" stroke-width="1"/>
<rect x="1110" y="467" width="1" height="38" fill="#000"/>
<rect x="1108" y="470" width="5" height="33" fill="#000"/>
<rect x="1118" y="448" width="1" height="115" fill="#000"/>
<rect x="1116" y="502" width="5" height="25" fill="#000"/>
<rect x="1126" y="315" width="1" height="211" fill="#000"/>
<rect x="1124.5" y="326.5" width="4" height="199" fill="#fff" stroke="#000" stroke-width="1"/>
<rect x="1134" y="291" width="1" height="40" fill="#000"/>
<rect x="1132.5" y="292.5" width="4" height="33" fill="#fff" stroke="#000" stroke-width="1"/>
<rect x="1142" y="272" width="1" height="27" fill="#000"/>
<rect x="1140.5" y="273.5" width="4" height="19" fill="#fff" stroke="#000" stroke-width="1"/>
<rect x="1150" y="273" width="1" height="10" fill="#000"/>
<rect x="1148" y="273" width="5" height="5" fill="#000"/>
<rect x="1158" y="277" width="1" height="23" fill="#000"/>
<rect x="1156.5" y="285.5" width="4" height="14" fill="#fff" stroke="#000" stroke-width="1"/>
<rect x="1166" y="264" width="1" height="37" fill="#000"/>
<rect x="1164.5" y="273.5" width="4" height="4" fill="#fff" stroke="#000" stroke-width="1"/>
<rect x="1174" y="270" width="1" height="46" fill="#000"/>
<rect x="1172" y="274" width="5" height="31" fill="#000"/>
<rect x="1182" y="250" width="1" height="59" fill="#000"/>
<rect x="1180.5" y="260.5" width="4" height="43" fill="#fff" stroke="#000" stroke-width="1"/>
<rect x="1190" y="250" width="1" height="14" fill="#000"/>
<rect x="1188.5" y="254.5" width="4" height="7" fill="#fff" stroke="#000" stroke-width="1"/>
<rect x="1198" y="239" width="1" height="16" fill="#000"/>
<rect x="1196.5" y="246.5" width="4" height="6" fill="#fff" stroke="#000" stroke-width="1"/>
<rect x="1206" y="230" width="1" height="20" fill="#000"/>
<rect x="1204.5" y="237.5" width="4" height="9" fill="#fff" stroke="#000" stroke-width="1"/>
<rect x="1214" y="200" width="1" height="39" fill="#000"/>
<rect x="1212.5" y="229.5" width="4" height="9" fill="#fff" stroke="#000" stroke-width="1"/>
<rect x="1222" y="225" width="1" height="28" fill="#000"/>
<rect x="1220" y="226" width="5" height="22" fill="#000"/>
<rect x="1230" y="242" width="1" height="45" fill="#000"/>
<rect x="1228" y="246" width="5" height="35" fill="#000"/>
<rect x="1238" y="260" width="1" height="32" fill="#000"/>
<rect x="1236" y="279" width="5" height="6" fill="#000"/>
<rect x="1246" y="272" width="1" height="15" fill="#000"/>
<rect x="1244" y="283" width="5" height="2" fill="#000"/>
<rect x="1254" y="276" width="1" height="20" fill="#000"/>
<rect x="1252" y="282" width="5" height="7" fill="#000"/>
<rect x="1262" y="241" width="1" height="58" fill="#000"/>
<rect x="1260.5" y="254.5" width="4" height="34" fill="#fff" stroke="#000" stroke-width="1"/>
<rect x="1270" y="252" width="1" height="31" fill="#000"/>
<rect x="1268" y="255" width="5" height="7" fill="#000"/>
<rect x="1278" y="242" width="1" height="22" fill="#000"/>
<rect x="1276.5" y="255.5" width="4" height="7" fill="#fff" stroke="#000" stroke-width="1"/>
<rect x="1286" y="251" width="1" height="32" fill="#000"/>
<rect x="1284" y="255" width="5" height="14" fill="#000"/>
<rect x="1294" y="265" width="1" height="21" fill="#000"/>
<rect x="1292" y="268" width="5" height="10" fill="#000"/>
<rect x="1302" y="277" width="1" height="17" fill="#000"/>
<rect x="1300.5" y="279.5" width="4" height="6" fill="#fff" stroke="#000" stroke-width="1"/>
<rect x="1310" y="272" width="1" height="76" fill="#000"/>
<rect x="1308" y="281" width="5" height="48" fill="#000"/>
<rect x="1318" y="330" width="1" height="60" fill="#000"/>
<rect x="1316" y="330" width="5" height="45" fill="#000"/>
<rect x="1326" y="357" width="1" height="30" fill="#000"/>
<rect x="1324.5" y="371.5" width="4" height="5" fill="#fff" stroke="#000" stroke-width="1"/>
<rect x="1334" y="359" width="1" height="55" fill="#000"/>
<rect x="1332" y="372" width="5" height="27" fill="#000"/>
<rect x="1342" y="377" width="1" height="30" fill="#000"/>
<rect x="1340" y="399" width="5" height="8" fill="#000"/>
<rect x="1350" y="413" width="1" height="21" fill="#000"/>
<rect x="1348" y="414" width="5" height="9" fill="#000"/>
<rect x="1358" y="385" width="1" height="70" fill="#000"/>
<rect x="1356.5" y="403.5" width="4" height="21" fill="#fff" stroke="#000" stroke-width="1"/>
<rect x="1366" y="363" width="1" height="83" fill="#000"/>
<rect x="1364.5" y="395.5" width="4" height="6" fill="#fff" stroke="#000" stroke-width="1"/>
<rect x="1374" y="386" width="1" height="59" fill="#000"/>
<rect x="1372" y="395" width="5" height="35" fill="#000"/>
<rect x="1382" y="408" width="1" height="52" fill="#000"/>
<rect x="1380" y="428" width="5" height="30" fill="#000"/>
<rect x="1390" y="448" width="1" height="32" fill="#000"/>
<rect x="1388" y="455" width="5" height="25" fill="#000"/>
<rect x="1360" y="462" width="112" height="6" fill="#00ff00"/>
<rect x="1519.5" y="470.5" width="110" height="24" fill="#fff" fill-opacity="0" stroke="#404040" stroke-width="1"/>
<text x="1520.5" y="488.5" font-size="20.5" fill="#00ff00" font-family="'Liberation Sans', 'Noto Sans CJK SC', 'WenQuanYi Zen Hei', sans-serif" font-weight="300" textLength="106" lengthAdjust="spacingAndGlyphs">多空转折点</text>
<rect x="1572.5" y="468.5" width="2" height="2" fill="none" stroke="#ff00ff" stroke-width="1"/>
<line x1="1220.5" y1="226" x2="1436.3" y2="529.0" stroke="#ff0000" stroke-width="3.5" stroke-linecap="round"/>
<polygon points="1441.5,536.3 1431.2,530.1 1439.0,524.6" fill="#ff0000"/>
</g>
<g clip-path="url(#cd)">
<rect x="-2" y="605" width="1" height="26" fill="#c0c0c0"/>
<rect x="6" y="605" width="1" height="26" fill="#c0c0c0"/>
<rect x="14" y="609" width="1" height="22" fill="#c0c0c0"/>
<rect x="22" y="611" width="1" height="20" fill="#c0c0c0"/>
<rect x="30" y="613" width="1" height="18" fill="#c0c0c0"/>
<rect x="38" y="616" width="1" height="15" fill="#c0c0c0"/>
<rect x="46" y="621" width="1" height="10" fill="#c0c0c0"/>
<rect x="54" y="625" width="1" height="6" fill="#c0c0c0"/>
<rect x="62" y="630" width="1" height="2" fill="#c0c0c0"/>
<rect x="70" y="630" width="1" height="9" fill="#c0c0c0"/>
<rect x="78" y="630" width="1" height="12" fill="#c0c0c0"/>
<rect x="86" y="630" width="1" height="13" fill="#c0c0c0"/>
<rect x="94" y="630" width="1" height="17" fill="#c0c0c0"/>
<rect x="102" y="630" width="1" height="20" fill="#c0c0c0"/>
<rect x="110" y="630" width="1" height="17" fill="#c0c0c0"/>
<rect x="118" y="630" width="1" height="16" fill="#c0c0c0"/>
<rect x="126" y="630" width="1" height="12" fill="#c0c0c0"/>
<rect x="134" y="630" width="1" height="8" fill="#c0c0c0"/>
<rect x="142" y="630" width="1" height="8" fill="#c0c0c0"/>
<rect x="150" y="630" width="1" height="6" fill="#c0c0c0"/>
<rect x="158" y="630" width="1" height="5" fill="#c0c0c0"/>
<rect x="166" y="630" width="1" height="3" fill="#c0c0c0"/>
<rect x="174" y="630" width="1" height="2" fill="#c0c0c0"/>
<rect x="182" y="630" width="1" height="2" fill="#c0c0c0"/>
<rect x="190" y="628" width="1" height="3" fill="#c0c0c0"/>
<rect x="198" y="623" width="1" height="8" fill="#c0c0c0"/>
<rect x="206" y="620" width="1" height="11" fill="#c0c0c0"/>
<rect x="214" y="617" width="1" height="14" fill="#c0c0c0"/>
<rect x="222" y="613" width="1" height="18" fill="#c0c0c0"/>
<rect x="230" y="611" width="1" height="20" fill="#c0c0c0"/>
<rect x="238" y="606" width="1" height="25" fill="#c0c0c0"/>
<rect x="246" y="602" width="1" height="29" fill="#c0c0c0"/>
<rect x="254" y="594" width="1" height="37" fill="#c0c0c0"/>
<rect x="262" y="590" width="1" height="41" fill="#c0c0c0"/>
<rect x="270" y="589" width="1" height="42" fill="#c0c0c0"/>
<rect x="278" y="587" width="1" height="44" fill="#c0c0c0"/>
<rect x="286" y="587" width="1" height="44" fill="#c0c0c0"/>
<rect x="294" y="589" width="1" height="42" fill="#c0c0c0"/>
<rect x="302" y="592" width="1" height="39" fill="#c0c0c0"/>
<rect x="310" y="593" width="1" height="38" fill="#c0c0c0"/>
<rect x="318" y="595" width="1" height="36" fill="#c0c0c0"/>
<rect x="326" y="600" width="1" height="31" fill="#c0c0c0"/>
<rect x="334" y="601" width="1" height="30" fill="#c0c0c0"/>
<rect x="342" y="608" width="1" height="23" fill="#c0c0c0"/>
<rect x="350" y="620" width="1" height="11" fill="#c0c0c0"/>
<rect x="358" y="625" width="1" height="6" fill="#c0c0c0"/>
<rect x="366" y="629" width="1" height="2" fill="#c0c0c0"/>
<rect x="374" y="630" width="1" height="2" fill="#c0c0c0"/>
<rect x="382" y="630" width="1" height="2" fill="#c0c0c0"/>
<rect x="390" y="630" width="1" height="2" fill="#c0c0c0"/>
<rect x="398" y="630" width="1" height="7" fill="#c0c0c0"/>
<rect x="406" y="630" width="1" height="17" fill="#c0c0c0"/>
<rect x="414" y="630" width="1" height="31" fill="#c0c0c0"/>
<rect x="422" y="630" width="1" height="44" fill="#c0c0c0"/>
<rect x="430" y="630" width="1" height="54" fill="#c0c0c0"/>
<rect x="438" y="630" width="1" height="65" fill="#c0c0c0"/>
<rect x="446" y="630" width="1" height="89" fill="#c0c0c0"/>
<rect x="454" y="630" width="1" height="92" fill="#c0c0c0"/>
<rect x="462" y="630" width="1" height="89" fill="#c0c0c0"/>
<rect x="470" y="630" width="1" height="81" fill="#c0c0c0"/>
<rect x="478" y="630" width="1" height="71" fill="#c0c0c0"/>
<rect x="486" y="630" width="1" height="65" fill="#c0c0c0"/>
<rect x="494" y="630" width="1" height="55" fill="#c0c0c0"/>
<rect x="502" y="630" width="1" height="50" fill="#c0c0c0"/>
<rect x="510" y="630" width="1" height="43" fill="#c0c0c0"/>
<rect x="518" y="630" width="1" height="36" fill="#c0c0c0"/>
<rect x="526" y="630" width="1" height="29" fill="#c0c0c0"/>
<rect x="534" y="630" width="1" height="21" fill="#c0c0c0"/>
<rect x="542" y="630" width="1" height="16" fill="#c0c0c0"/>
<rect x="550" y="630" width="1" height="14" fill="#c0c0c0"/>
<rect x="558" y="630" width="1" height="13" fill="#c0c0c0"/>
<rect x="566" y="630" width="1" height="13" fill="#c0c0c0"/>
<rect x="574" y="630" width="1" height="13" fill="#c0c0c0"/>
<rect x="582" y="630" width="1" height="11" fill="#c0c0c0"/>
<rect x="590" y="630" width="1" height="6" fill="#c0c0c0"/>
<rect x="598" y="630" width="1" height="2" fill="#c0c0c0"/>
<rect x="606" y="627" width="1" height="4" fill="#c0c0c0"/>
<rect x="614" y="621" width="1" height="10" fill="#c0c0c0"/>
<rect x="622" y="615" width="1" height="16" fill="#c0c0c0"/>
<rect x="630" y="610" width="1" height="21" fill="#c0c0c0"/>
<rect x="638" y="606" width="1" height="25" fill="#c0c0c0"/>
<rect x="646" y="605" width="1" height="26" fill="#c0c0c0"/>
<rect x="654" y="605" width="1" height="26" fill="#c0c0c0"/>
<rect x="662" y="604" width="1" height="27" fill="#c0c0c0"/>
<rect x="670" y="604" width="1" height="27" fill="#c0c0c0"/>
<rect x="678" y="603" width="1" height="28" fill="#c0c0c0"/>
<rect x="686" y="604" width="1" height="27" fill="#c0c0c0"/>
<rect x="694" y="607" width="1" height="24" fill="#c0c0c0"/>
<rect x="702" y="610" width="1" height="21" fill="#c0c0c0"/>
<rect x="710" y="613" width="1" height="18" fill="#c0c0c0"/>
<rect x="718" y="616" width="1" height="15" fill="#c0c0c0"/>
<rect x="726" y="619" width="1" height="12" fill="#c0c0c0"/>
<rect x="734" y="627" width="1" height="4" fill="#c0c0c0"/>
<rect x="742" y="629" width="1" height="2" fill="#c0c0c0"/>
<rect x="750" y="629" width="1" height="2" fill="#c0c0c0"/>
<rect x="758" y="630" width="1" height="3" fill="#c0c0c0"/>
<rect x="766" y="630" width="1" height="4" fill="#c0c0c0"/>
<rect x="774" y="630" width="1" height="4" fill="#c0c0c0"/>
<rect x="782" y="630" width="1" height="6" fill="#c0c0c0"/>
<rect x="790" y="630" width="1" height="13" fill="#c0c0c0"/>
<rect x="798" y="630" width="1" height="17" fill="#c0c0c0"/>
<rect x="806" y="630" width="1" height="20" fill="#c0c0c0"/>
<rect x="814" y="630" width="1" height="19" fill="#c0c0c0"/>
<rect x="822" y="630" width="1" height="17" fill="#c0c0c0"/>
<rect x="830" y="630" width="1" height="20" fill="#c0c0c0"/>
<rect x="838" y="630" width="1" height="25" fill="#c0c0c0"/>
<rect x="846" y="630" width="1" height="24" fill="#c0c0c0"/>
<rect x="854" y="630" width="1" height="22" fill="#c0c0c0"/>
<rect x="862" y="630" width="1" height="20" fill="#c0c0c0"/>
<rect x="870" y="630" width="1" height="20" fill="#c0c0c0"/>
<rect x="878" y="630" width="1" height="18" fill="#c0c0c0"/>
<rect x="886" y="630" width="1" height="16" fill="#c0c0c0"/>
<rect x="894" y="630" width="1" height="15" fill="#c0c0c0"/>
<rect x="902" y="630" width="1" height="13" fill="#c0c0c0"/>
<rect x="910" y="630" width="1" height="12" fill="#c0c0c0"/>
<rect x="918" y="630" width="1" height="13" fill="#c0c0c0"/>
<rect x="926" y="630" width="1" height="16" fill="#c0c0c0"/>
<rect x="934" y="630" width="1" height="19" fill="#c0c0c0"/>
<rect x="942" y="630" width="1" height="20" fill="#c0c0c0"/>
<rect x="950" y="630" width="1" height="20" fill="#c0c0c0"/>
<rect x="958" y="630" width="1" height="20" fill="#c0c0c0"/>
<rect x="966" y="630" width="1" height="19" fill="#c0c0c0"/>
<rect x="974" y="630" width="1" height="17" fill="#c0c0c0"/>
<rect x="982" y="630" width="1" height="20" fill="#c0c0c0"/>
<rect x="990" y="630" width="1" height="30" fill="#c0c0c0"/>
<rect x="998" y="630" width="1" height="35" fill="#c0c0c0"/>
<rect x="1006" y="630" width="1" height="40" fill="#c0c0c0"/>
<rect x="1014" y="630" width="1" height="48" fill="#c0c0c0"/>
<rect x="1022" y="630" width="1" height="49" fill="#c0c0c0"/>
<rect x="1030" y="630" width="1" height="47" fill="#c0c0c0"/>
<rect x="1038" y="630" width="1" height="48" fill="#c0c0c0"/>
<rect x="1046" y="630" width="1" height="47" fill="#c0c0c0"/>
<rect x="1054" y="630" width="1" height="46" fill="#c0c0c0"/>
<rect x="1062" y="630" width="1" height="46" fill="#c0c0c0"/>
<rect x="1070" y="630" width="1" height="51" fill="#c0c0c0"/>
<rect x="1078" y="630" width="1" height="71" fill="#c0c0c0"/>
<rect x="1086" y="630" width="1" height="87" fill="#c0c0c0"/>
<rect x="1094" y="630" width="1" height="94" fill="#c0c0c0"/>
<rect x="1102" y="630" width="1" height="98" fill="#c0c0c0"/>
<rect x="1110" y="630" width="1" height="104" fill="#c0c0c0"/>
<rect x="1118" y="630" width="1" height="110" fill="#c0c0c0"/>
<rect x="1126" y="630" width="1" height="88" fill="#c0c0c0"/>
<rect x="1134" y="630" width="1" height="65" fill="#c0c0c0"/>
<rect x="1142" y="630" width="1" height="43" fill="#c0c0c0"/>
<rect x="1150" y="630" width="1" height="27" fill="#c0c0c0"/>
<rect x="1158" y="630" width="1" height="14" fill="#c0c0c0"/>
<rect x="1166" y="630" width="1" height="3" fill="#c0c0c0"/>
<rect x="1174" y="627" width="1" height="4" fill="#c0c0c0"/>
<rect x="1182" y="618" width="1" height="13" fill="#c0c0c0"/>
<rect x="1190" y="609" width="1" height="22" fill="#c0c0c0"/>
<rect x="1198" y="602" width="1" height="29" fill="#c0c0c0"/>
<rect x="1206" y="596" width="1" height="35" fill="#c0c0c0"/>
<rect x="1214" y="590" width="1" height="41" fill="#c0c0c0"/>
<rect x="1222" y="588" width="1" height="43" fill="#c0c0c0"/>
<rect x="1230" y="592" width="1" height="39" fill="#c0c0c0"/>
<rect x="1238" y="595" width="1" height="36" fill="#c0c0c0"/>
<rect x="1246" y="599" width="1" height="32" fill="#c0c0c0"/>
<rect x="1254" y="602" width="1" height="29" fill="#c0c0c0"/>
<rect x="1262" y="601" width="1" height="30" fill="#c0c0c0"/>
<rect x="1270" y="601" width="1" height="30" fill="#c0c0c0"/>
<rect x="1278" y="600" width="1" height="31" fill="#c0c0c0"/>
<rect x="1286" y="602" width="1" height="29" fill="#c0c0c0"/>
<rect x="1294" y="605" width="1" height="26" fill="#c0c0c0"/>
<rect x="1302" y="608" width="1" height="23" fill="#c0c0c0"/>
<rect x="1310" y="617" width="1" height="14" fill="#c0c0c0"/>
<rect x="1326" y="630" width="1" height="11" fill="#c0c0c0"/>
<rect x="1334" y="630" width="1" height="22" fill="#c0c0c0"/>
<rect x="1342" y="630" width="1" height="31" fill="#c0c0c0"/>
<rect x="1350" y="630" width="1" height="41" fill="#c0c0c0"/>
<rect x="1358" y="630" width="1" height="45" fill="#c0c0c0"/>
<rect x="1366" y="630" width="1" height="47" fill="#c0c0c0"/>
<rect x="1374" y="630" width="1" height="52" fill="#c0c0c0"/>
<rect x="1382" y="630" width="1" height="59" fill="#c0c0c0"/>
<rect x="1390" y="630" width="1" height="67" fill="#c0c0c0"/>
<polyline points="-1.5,604.3 6.5,604.3 14.5,604.3 22.5,604.5 30.5,606.5 38.5,608.2 46.5,610.3 54.5,613.0 62.5,615.2 70.5,619.0 78.5,622.9 86.5,626.6 94.5,630.5 102.5,634.4 110.5,637.8 118.5,640.3 126.5,642.1 134.5,642.7 142.5,642.6 150.5,641.9 158.5,641.0 166.5,639.5 174.5,637.6 182.5,635.8 190.5,634.0 198.5,631.9 206.5,630.1 214.5,627.9 222.5,625.5 230.5,622.8 238.5,619.9 246.5,616.7 254.5,612.6 262.5,608.4 270.5,604.6 278.5,600.8 286.5,597.6 294.5,595.0 302.5,592.9 310.5,591.5 318.5,590.7 326.5,591.3 334.5,592.6 342.5,594.8 350.5,598.5 358.5,602.7 366.5,607.0 374.5,611.4 382.5,615.6 390.5,619.6 398.5,623.6 406.5,628.5 414.5,634.3 422.5,640.2 430.5,646.6 438.5,653.9 446.5,663.5 454.5,673.5 462.5,683.2 470.5,691.4 478.5,697.4 486.5,701.2 494.5,702.4 502.5,701.9 510.5,699.4 518.5,693.5 526.5,686.5 534.5,679.0 542.5,671.7 550.5,665.4 558.5,659.6 566.5,655.0 574.5,650.9 582.5,647.3 590.5,644.1 598.5,641.2 606.5,638.6 614.5,636.0 622.5,632.9 630.5,629.3 638.5,625.3 646.5,621.3 654.5,617.4 662.5,613.9 670.5,610.9 678.5,608.2 686.5,606.3 694.5,605.4 702.5,605.4 710.5,606.2 718.5,607.3 726.5,608.9 734.5,611.4 742.5,614.2 750.5,617.1 758.5,620.2 766.5,623.0 774.5,625.6 782.5,628.0 790.5,631.0 798.5,633.9 806.5,636.4 814.5,638.5 822.5,640.3 830.5,642.2 838.5,644.6 846.5,646.8 854.5,648.6 862.5,649.3 870.5,649.8 878.5,649.5 886.5,649.2 894.5,648.9 902.5,648.2 910.5,646.8 918.5,645.5 926.5,644.9 934.5,644.8 942.5,644.7 950.5,645.0 958.5,645.5 966.5,645.9 974.5,646.3 982.5,647.2 990.5,649.1 998.5,651.2 1006.5,653.5 1014.5,656.6 1022.5,659.8 1030.5,662.8 1038.5,666.1 1046.5,669.4 1054.5,672.3 1062.5,674.1 1070.5,675.9 1078.5,679.3 1086.5,683.7 1094.5,688.7 1102.5,694.4 1110.5,700.6 1118.5,707.7 1126.5,712.3 1134.5,714.3 1142.5,713.5 1150.5,708.5 1158.5,700.5 1166.5,690.3 1174.5,679.2 1182.5,666.4 1190.5,651.9 1198.5,639.2 1206.5,628.3 1214.5,619.2 1222.5,611.7 1230.5,605.9 1238.5,601.9 1246.5,598.7 1254.5,597.0 1262.5,596.0 1270.5,595.9 1278.5,596.4 1286.5,597.8 1294.5,599.7 1302.5,601.5 1310.5,603.8 1318.5,607.3 1326.5,611.5 1334.5,617.0 1342.5,623.7 1350.5,631.4 1358.5,639.3 1366.5,647.2 1374.5,655.3 1382.5,663.3 1390.5,670.7" fill="none" stroke="#ff0000" stroke-width="1" stroke-dasharray="3 3"/>
<line x1="1265.6" y1="592" x2="1409.5" y2="695.2" stroke="#ff0000" stroke-width="3.5" stroke-linecap="round"/>
<polygon points="1416.8,700.4 1405.1,697.9 1410.7,690.1" fill="#ff0000"/>
</g>
<g clip-path="url(#cr)">
<line x1="0" y1="786.5" x2="1656" y2="786.5" stroke="#c0c0c0" stroke-width="1" stroke-dasharray="3 3"/>
<line x1="0" y1="837.5" x2="1656" y2="837.5" stroke="#c0c0c0" stroke-width="1" stroke-dasharray="3 3"/>
<line x1="0" y1="898.5" x2="1656" y2="898.5" stroke="#c0c0c0" stroke-width="1" stroke-dasharray="3 3"/>
<polyline points="-1.5,826.0 6.5,828.1 14.5,836.2 22.5,833.3 30.5,835.4 38.5,838.9 46.5,844.9 54.5,845.1 62.5,853.2 70.5,858.2 78.5,848.2 86.5,847.2 94.5,853.8 102.5,855.5 110.5,838.4 118.5,840.3 126.5,834.4 134.5,829.6 142.5,840.0 150.5,834.8 158.5,839.7 166.5,833.8 174.5,834.0 182.5,837.3 190.5,829.3 198.5,820.7 206.5,825.8 214.5,820.6 222.5,818.5 230.5,819.4 238.5,810.9 246.5,811.3 254.5,798.9 262.5,805.8 270.5,813.5 278.5,810.9 286.5,816.2 294.5,822.0 302.5,823.1 310.5,820.9 318.5,821.8 326.5,833.8 334.5,825.3 342.5,845.8 350.5,861.9 358.5,847.0 366.5,844.4 374.5,844.7 382.5,837.4 390.5,838.7 398.5,851.3 406.5,864.5 414.5,874.9 422.5,877.0 430.5,878.3 438.5,882.3 446.5,895.6 454.5,860.4 462.5,854.5 470.5,845.4 478.5,841.7 486.5,845.5 494.5,837.9 502.5,842.9 510.5,839.4 518.5,837.0 526.5,835.2 534.5,833.0 542.5,833.3 550.5,839.0 558.5,841.3 566.5,841.8 574.5,841.5 582.5,838.6 590.5,831.2 598.5,830.0 606.5,827.7 614.5,822.2 622.5,818.0 630.5,816.6 638.5,817.1 646.5,825.0 654.5,823.5 662.5,823.6 670.5,824.0 678.5,817.8 686.5,828.8 694.5,833.7 702.5,835.3 710.5,836.9 718.5,839.7 726.5,842.1 734.5,859.4 742.5,844.7 750.5,838.7 758.5,845.5 766.5,842.8 774.5,839.1 782.5,847.7 790.5,863.3 798.5,853.0 806.5,855.7 814.5,844.7 822.5,839.4 830.5,853.6 838.5,858.8 846.5,844.7 854.5,843.2 862.5,842.1 870.5,847.1 878.5,839.3 886.5,840.4 894.5,841.3 902.5,841.6 910.5,840.8 918.5,846.0 926.5,857.4 934.5,857.2 942.5,851.3 950.5,852.3 958.5,849.3 966.5,844.5 974.5,844.5 982.5,859.6 990.5,877.6 998.5,869.0 1006.5,871.2 1014.5,878.9 1022.5,861.9 1030.5,853.2 1038.5,859.6 1046.5,857.2 1054.5,856.8 1062.5,860.6 1070.5,870.7 1078.5,891.0 1086.5,891.1 1094.5,878.5 1102.5,877.5 1110.5,881.4 1118.5,884.6 1126.5,830.9 1134.5,825.5 1142.5,822.5 1150.5,823.5 1158.5,825.4 1166.5,823.2 1174.5,830.9 1182.5,822.6 1190.5,821.6 1198.5,820.1 1206.5,818.4 1214.5,816.8 1222.5,822.7 1230.5,832.4 1238.5,833.5 1246.5,833.5 1254.5,834.7 1262.5,825.2 1270.5,827.7 1278.5,826.0 1286.5,830.9 1294.5,834.2 1302.5,834.9 1310.5,851.1 1318.5,862.5 1326.5,861.0 1334.5,867.0 1342.5,868.7 1350.5,871.9 1358.5,863.1 1366.5,859.7 1374.5,867.8 1382.5,873.4 1390.5,877.3" fill="none" stroke="#1e90ff" stroke-width="1"/>
<line x1="1218.8" y1="808.6" x2="1383.0" y2="872.2" stroke="#ff0000" stroke-width="3.5" stroke-linecap="round"/>
<polygon points="1391.4,875.5 1379.4,876.0 1382.9,867.0" fill="#ff0000"/>
</g>
<rect x="1702" y="21" width="1" height="919" fill="#e0e0e0"/>
<rect x="0" y="23" width="1657" height="1" fill="#000"/>
<rect x="0" y="576" width="1657" height="1" fill="#000"/>
<rect x="1656" y="23" width="1" height="554" fill="#000"/>
<rect x="0" y="578" width="1657" height="1" fill="#000"/>
<rect x="0" y="748" width="1657" height="1" fill="#000"/>
<rect x="1656" y="578" width="1" height="171" fill="#000"/>
<rect x="0" y="750" width="1657" height="1" fill="#000"/>
<rect x="0" y="924" width="1657" height="1" fill="#000"/>
<rect x="1656" y="750" width="1" height="175" fill="#000"/>
<rect x="1657" y="45" width="3" height="1" fill="#000"/>
<text x="1662" y="49" font-size="10.1" fill="#000" stroke="#000" stroke-width="0.25" textLength="32.5" lengthAdjust="spacingAndGlyphs">29454.0</text>
<rect x="1657" y="78" width="3" height="1" fill="#000"/>
<text x="1662" y="82" font-size="10.1" fill="#000" stroke="#000" stroke-width="0.25" textLength="32.5" lengthAdjust="spacingAndGlyphs">29321.0</text>
<rect x="1657" y="111" width="3" height="1" fill="#000"/>
<text x="1662" y="115" font-size="10.1" fill="#000" stroke="#000" stroke-width="0.25" textLength="32.5" lengthAdjust="spacingAndGlyphs">29188.0</text>
<rect x="1657" y="144" width="3" height="1" fill="#000"/>
<text x="1662" y="148" font-size="10.1" fill="#000" stroke="#000" stroke-width="0.25" textLength="32.5" lengthAdjust="spacingAndGlyphs">29055.0</text>
<rect x="1657" y="177" width="3" height="1" fill="#000"/>
<text x="1662" y="181" font-size="10.1" fill="#000" stroke="#000" stroke-width="0.25" textLength="32.5" lengthAdjust="spacingAndGlyphs">28925.5</text>
<rect x="1657" y="210" width="3" height="1" fill="#000"/>
<text x="1662" y="214" font-size="10.1" fill="#000" stroke="#000" stroke-width="0.25" textLength="32.5" lengthAdjust="spacingAndGlyphs">28792.5</text>
<rect x="1657" y="243" width="3" height="1" fill="#000"/>
<text x="1662" y="247" font-size="10.1" fill="#000" stroke="#000" stroke-width="0.25" textLength="32.5" lengthAdjust="spacingAndGlyphs">28659.5</text>
<rect x="1657" y="276" width="3" height="1" fill="#000"/>
<text x="1662" y="280" font-size="10.1" fill="#000" stroke="#000" stroke-width="0.25" textLength="32.5" lengthAdjust="spacingAndGlyphs">28526.5</text>
<rect x="1657" y="309" width="3" height="1" fill="#000"/>
<text x="1662" y="313" font-size="10.1" fill="#000" stroke="#000" stroke-width="0.25" textLength="32.5" lengthAdjust="spacingAndGlyphs">28393.5</text>
<rect x="1657" y="342" width="3" height="1" fill="#000"/>
<text x="1662" y="346" font-size="10.1" fill="#000" stroke="#000" stroke-width="0.25" textLength="32.5" lengthAdjust="spacingAndGlyphs">28264.0</text>
<rect x="1657" y="375" width="3" height="1" fill="#000"/>
<text x="1662" y="379" font-size="10.1" fill="#000" stroke="#000" stroke-width="0.25" textLength="32.5" lengthAdjust="spacingAndGlyphs">28131.0</text>
<rect x="1657" y="408" width="3" height="1" fill="#000"/>
<text x="1662" y="412" font-size="10.1" fill="#000" stroke="#000" stroke-width="0.25" textLength="32.5" lengthAdjust="spacingAndGlyphs">27998.0</text>
<rect x="1657" y="441" width="3" height="1" fill="#000"/>
<text x="1662" y="445" font-size="10.1" fill="#000" stroke="#000" stroke-width="0.25" textLength="32.5" lengthAdjust="spacingAndGlyphs">27865.0</text>
<rect x="1657" y="474" width="3" height="1" fill="#000"/>
<text x="1662" y="478" font-size="10.1" fill="#000" stroke="#000" stroke-width="0.25" textLength="32.5" lengthAdjust="spacingAndGlyphs">27732.0</text>
<rect x="1657" y="507" width="3" height="1" fill="#000"/>
<text x="1662" y="511" font-size="10.1" fill="#000" stroke="#000" stroke-width="0.25" textLength="32.5" lengthAdjust="spacingAndGlyphs">27599.0</text>
<rect x="1657" y="540" width="3" height="1" fill="#000"/>
<text x="1662" y="544" font-size="10.1" fill="#000" stroke="#000" stroke-width="0.25" textLength="32.5" lengthAdjust="spacingAndGlyphs">27469.5</text>
<rect x="1657" y="573" width="3" height="1" fill="#000"/>
<text x="1662" y="577" font-size="10.1" fill="#000" stroke="#000" stroke-width="0.25" textLength="32.5" lengthAdjust="spacingAndGlyphs">27336.5</text>
<rect x="1658" y="407" width="41" height="11" fill="#ff0000"/>
<text x="1661" y="416" font-size="10" fill="#fff" textLength="35.5" lengthAdjust="spacingAndGlyphs">27978.6</text>
<rect x="1658" y="435" width="41" height="11" fill="#ff0000"/>
<text x="1661" y="444" font-size="10" fill="#fff" textLength="35.5" lengthAdjust="spacingAndGlyphs">27866.5</text>
<rect x="1658" y="457" width="41" height="11" fill="#32cd32"/>
<text x="1661" y="466" font-size="10" fill="#fff" textLength="35.5" lengthAdjust="spacingAndGlyphs">27778.4</text>
<rect x="1658" y="474" width="41" height="11" fill="#000000"/>
<text x="1661" y="483" font-size="10" fill="#fff" textLength="35.5" lengthAdjust="spacingAndGlyphs">27712.5</text>
<rect x="1658" y="495" width="41" height="11" fill="#0000ff"/>
<text x="1661" y="504" font-size="10" fill="#fff" textLength="35.5" lengthAdjust="spacingAndGlyphs">27626.3</text>
<rect x="1658" y="520" width="41" height="11" fill="#0000ff"/>
<text x="1661" y="529" font-size="10" fill="#fff" textLength="35.5" lengthAdjust="spacingAndGlyphs">27526.2</text>
<rect x="1657" y="580" width="3" height="1" fill="#000"/>
<text x="1660.5" y="589" font-size="10" fill="#000" stroke="#000" stroke-width="0.25" textLength="27.3" lengthAdjust="spacingAndGlyphs">123.06</text>
<rect x="1657" y="630" width="3" height="1" fill="#000"/>
<text x="1660.5" y="634" font-size="10" fill="#000" stroke="#000" stroke-width="0.25" textLength="17.3" lengthAdjust="spacingAndGlyphs">0.00</text>
<rect x="1657" y="747" width="3" height="1" fill="#000"/>
<text x="1660" y="745.3" font-size="10" fill="#000" stroke="#000" stroke-width="0.25" textLength="31.5" lengthAdjust="spacingAndGlyphs">-285.88</text>
<rect x="1657" y="752" width="3" height="1" fill="#000"/>
<text x="1660.5" y="761" font-size="10" fill="#000" stroke="#000" stroke-width="0.25" textLength="14.5" lengthAdjust="spacingAndGlyphs">100</text>
<text x="1659.5" y="790.2" font-size="10" fill="#000" stroke="#000" stroke-width="0.25" textLength="10" lengthAdjust="spacingAndGlyphs">80</text>
<text x="1659.5" y="841.2" font-size="10" fill="#000" stroke="#000" stroke-width="0.25" textLength="10" lengthAdjust="spacingAndGlyphs">50</text>
<text x="1659.5" y="902.2" font-size="10" fill="#000" stroke="#000" stroke-width="0.25" textLength="10" lengthAdjust="spacingAndGlyphs">15</text>
<text x="1660" y="921.5" font-size="10" fill="#000" stroke="#000" stroke-width="0.25">0</text>
<text x="-3" y="937" font-size="9.8" fill="#000" stroke="#000" stroke-width="0.25" textLength="45.1" lengthAdjust="spacingAndGlyphs">7 Jun 2021</text>
<rect x="62" y="925" width="1" height="3" fill="#000"/>
<text x="61" y="937" font-size="9.8" fill="#000" stroke="#000" stroke-width="0.25" textLength="47.6" lengthAdjust="spacingAndGlyphs">9 Jun 00:00</text>
<rect x="126" y="925" width="1" height="3" fill="#000"/>
<text x="125" y="937" font-size="9.8" fill="#000" stroke="#000" stroke-width="0.25" textLength="52.7" lengthAdjust="spacingAndGlyphs">10 Jun 10:55</text>
<rect x="190" y="925" width="1" height="3" fill="#000"/>
<text x="189" y="937" font-size="9.8" fill="#000" stroke="#000" stroke-width="0.25" textLength="52.0" lengthAdjust="spacingAndGlyphs">11 Jun 18:55</text>
<rect x="254" y="925" width="1" height="3" fill="#000"/>
<text x="253" y="937" font-size="9.8" fill="#000" stroke="#000" stroke-width="0.25" textLength="52.7" lengthAdjust="spacingAndGlyphs">15 Jun 00:00</text>
<rect x="318" y="925" width="1" height="3" fill="#000"/>
<text x="317" y="937" font-size="9.8" fill="#000" stroke="#000" stroke-width="0.25" textLength="52.7" lengthAdjust="spacingAndGlyphs">16 Jun 10:55</text>
<rect x="382" y="925" width="1" height="3" fill="#000"/>
<text x="381" y="937" font-size="9.8" fill="#000" stroke="#000" stroke-width="0.25" textLength="52.7" lengthAdjust="spacingAndGlyphs">17 Jun 18:55</text>
<rect x="446" y="925" width="1" height="3" fill="#000"/>
<text x="445" y="937" font-size="9.8" fill="#000" stroke="#000" stroke-width="0.25" textLength="52.7" lengthAdjust="spacingAndGlyphs">21 Jun 00:00</text>
<rect x="510" y="925" width="1" height="3" fill="#000"/>
<text x="509" y="937" font-size="9.8" fill="#000" stroke="#000" stroke-width="0.25" textLength="52.7" lengthAdjust="spacingAndGlyphs">22 Jun 10:55</text>
<rect x="574" y="925" width="1" height="3" fill="#000"/>
<text x="573" y="937" font-size="9.8" fill="#000" stroke="#000" stroke-width="0.25" textLength="52.7" lengthAdjust="spacingAndGlyphs">23 Jun 18:55</text>
<rect x="638" y="925" width="1" height="3" fill="#000"/>
<text x="637" y="937" font-size="9.8" fill="#000" stroke="#000" stroke-width="0.25" textLength="52.7" lengthAdjust="spacingAndGlyphs">25 Jun 00:00</text>
<rect x="702" y="925" width="1" height="3" fill="#000"/>
<text x="701" y="937" font-size="9.8" fill="#000" stroke="#000" stroke-width="0.25" textLength="52.7" lengthAdjust="spacingAndGlyphs">28 Jun 10:55</text>
<rect x="766" y="925" width="1" height="3" fill="#000"/>
<text x="765" y="937" font-size="9.8" fill="#000" stroke="#000" stroke-width="0.25" textLength="52.7" lengthAdjust="spacingAndGlyphs">29 Jun 18:55</text>
<rect x="830" y="925" width="1" height="3" fill="#000"/>
<text x="829" y="937" font-size="9.8" fill="#000" stroke="#000" stroke-width="0.25" textLength="44.6" lengthAdjust="spacingAndGlyphs">1 Jul 00:00</text>
<rect x="894" y="925" width="1" height="3" fill="#000"/>
<text x="893" y="937" font-size="9.8" fill="#000" stroke="#000" stroke-width="0.25" textLength="44.6" lengthAdjust="spacingAndGlyphs">2 Jul 10:55</text>
<rect x="958" y="925" width="1" height="3" fill="#000"/>
<text x="957" y="937" font-size="9.8" fill="#000" stroke="#000" stroke-width="0.25" textLength="44.6" lengthAdjust="spacingAndGlyphs">5 Jul 18:55</text>
<rect x="1022" y="925" width="1" height="3" fill="#000"/>
<text x="1021" y="937" font-size="9.8" fill="#000" stroke="#000" stroke-width="0.25" textLength="44.6" lengthAdjust="spacingAndGlyphs">7 Jul 00:00</text>
<rect x="1086" y="925" width="1" height="3" fill="#000"/>
<text x="1085" y="937" font-size="9.8" fill="#000" stroke="#000" stroke-width="0.25" textLength="44.6" lengthAdjust="spacingAndGlyphs">8 Jul 10:55</text>
<rect x="1150" y="925" width="1" height="3" fill="#000"/>
<text x="1149" y="937" font-size="9.8" fill="#000" stroke="#000" stroke-width="0.25" textLength="44.6" lengthAdjust="spacingAndGlyphs">9 Jul 18:55</text>
<rect x="1214" y="925" width="1" height="3" fill="#000"/>
<text x="1213" y="937" font-size="9.8" fill="#000" stroke="#000" stroke-width="0.25" textLength="49.7" lengthAdjust="spacingAndGlyphs">13 Jul 00:00</text>
<rect x="1278" y="925" width="1" height="3" fill="#000"/>
<text x="1277" y="937" font-size="9.8" fill="#000" stroke="#000" stroke-width="0.25" textLength="49.7" lengthAdjust="spacingAndGlyphs">14 Jul 10:55</text>
<rect x="1342" y="925" width="1" height="3" fill="#000"/>
<text x="1341" y="937" font-size="9.8" fill="#000" stroke="#000" stroke-width="0.25" textLength="49.7" lengthAdjust="spacingAndGlyphs">15 Jul 18:55</text>
<polygon points="1.5,34 8.5,34 5,30" fill="#000"/>
<text x="12.5" y="35" font-size="10" fill="#000" stroke="#000" stroke-width="0.25" textLength="197" lengthAdjust="spacingAndGlyphs">JPN225-,H4&#160;&#160;27807.5 27837.5 27712.5 27712.5</text>
<text x="2" y="591" font-size="10" fill="#000" stroke="#000" stroke-width="0.25" textLength="134" lengthAdjust="spacingAndGlyphs">MACD(12,26,9) -162.58 -100.12</text>
<text x="2" y="763" font-size="10" fill="#000" stroke="#000" stroke-width="0.25" textLength="68" lengthAdjust="spacingAndGlyphs">RSI(14) 27.1115</text>
<g>

<defs>
<linearGradient id="gtab" x1="0" y1="43" x2="0" y2="67" gradientUnits="userSpaceOnUse"><stop offset="0" stop-color="#f85a5a"/><stop offset="1" stop-color="#e02c2c"/></linearGradient>
<linearGradient id="gbot" x1="0" y1="67" x2="0" y2="100" gradientUnits="userSpaceOnUse"><stop offset="0" stop-color="#dc2a2a"/><stop offset="1" stop-color="#b00000"/></linearGradient>
<linearGradient id="gbtn" x1="0" y1="44" x2="0" y2="64" gradientUnits="userSpaceOnUse"><stop offset="0" stop-color="#f2f2f2"/><stop offset="0.3" stop-color="#e6e6e6"/><stop offset="0.35" stop-color="#d9d9d9"/><stop offset="1" stop-color="#d2d2d2"/></linearGradient>
</defs>
<rect x="54" y="43" width="115" height="24" fill="#fff"/>
<rect x="1" y="43" width="53" height="25" fill="url(#gtab)"/>
<rect x="1" y="67" width="109" height="33" fill="url(#gbot)"/>
<rect x="168" y="43" width="52" height="25" fill="url(#gtab)"/>
<rect x="112" y="67" width="108" height="33" fill="url(#gbot)"/>
<path d="M1.5 100 V43.5 H53.5 V67.5 H109.5 V100" fill="none" stroke="#c41010" stroke-width="1"/>
<path d="M112.5 100 V67.5 H168.5 V43.5 H219.5 V100" fill="none" stroke="#c41010" stroke-width="1"/>
<rect x="5" y="66" width="44" height="1" fill="#7a0000"/><rect x="5" y="67" width="44" height="1" fill="#f28080"/>
<rect x="172" y="66" width="44" height="1" fill="#7a0000"/><rect x="172" y="67" width="44" height="1" fill="#f28080"/>
<text x="13.3" y="59" font-size="12" fill="#ffe8e8" textLength="25.7" lengthAdjust="spacingAndGlyphs">SELL</text>
<text x="181.7" y="59" font-size="12" fill="#ffe8e8" textLength="23.3" lengthAdjust="spacingAndGlyphs">BUY</text>
<rect x="55.5" y="43.5" width="110" height="21" fill="#fff" stroke="#a8a8a8" stroke-width="1"/>
<rect x="56.5" y="44.5" width="19" height="19" fill="url(#gbtn)" stroke="#c4c4c4" stroke-width="1"/>
<rect x="144.5" y="44.5" width="20" height="19" fill="url(#gbtn)" stroke="#c4c4c4" stroke-width="1"/>
<rect x="76" y="44" width="1" height="20" fill="#b0b0b0"/><rect x="144" y="44" width="1" height="20" fill="#b0b0b0"/>
<polygon points="63,52.5 69,52.5 66,55.5" fill="#4a60c0"/>
<polygon points="151.5,56 157.5,56 154.5,53" fill="#4a60c0"/>
<text x="140.5" y="58" font-size="12.5" fill="#000" text-anchor="end" textLength="23" lengthAdjust="spacingAndGlyphs">1.00</text>
<text x="17.5" y="95" font-size="11.5" font-weight="bold" fill="#fff" textLength="34.5" lengthAdjust="spacingAndGlyphs">27711</text>
<circle cx="58.3" cy="92.9" r="1.8" fill="#fff"/>
<text x="62" y="95" font-size="36" fill="#fff" font-family="'Liberation Serif', serif">0</text>
<text x="127.1" y="95" font-size="11.5" font-weight="bold" fill="#fff" textLength="34.6" lengthAdjust="spacingAndGlyphs">27734</text>
<circle cx="169.5" cy="92.9" r="1.8" fill="#fff"/>
<text x="173" y="95" font-size="36" fill="#fff" font-family="'Liberation Serif', serif">0</text>

</g>
</svg>
</body></html>
